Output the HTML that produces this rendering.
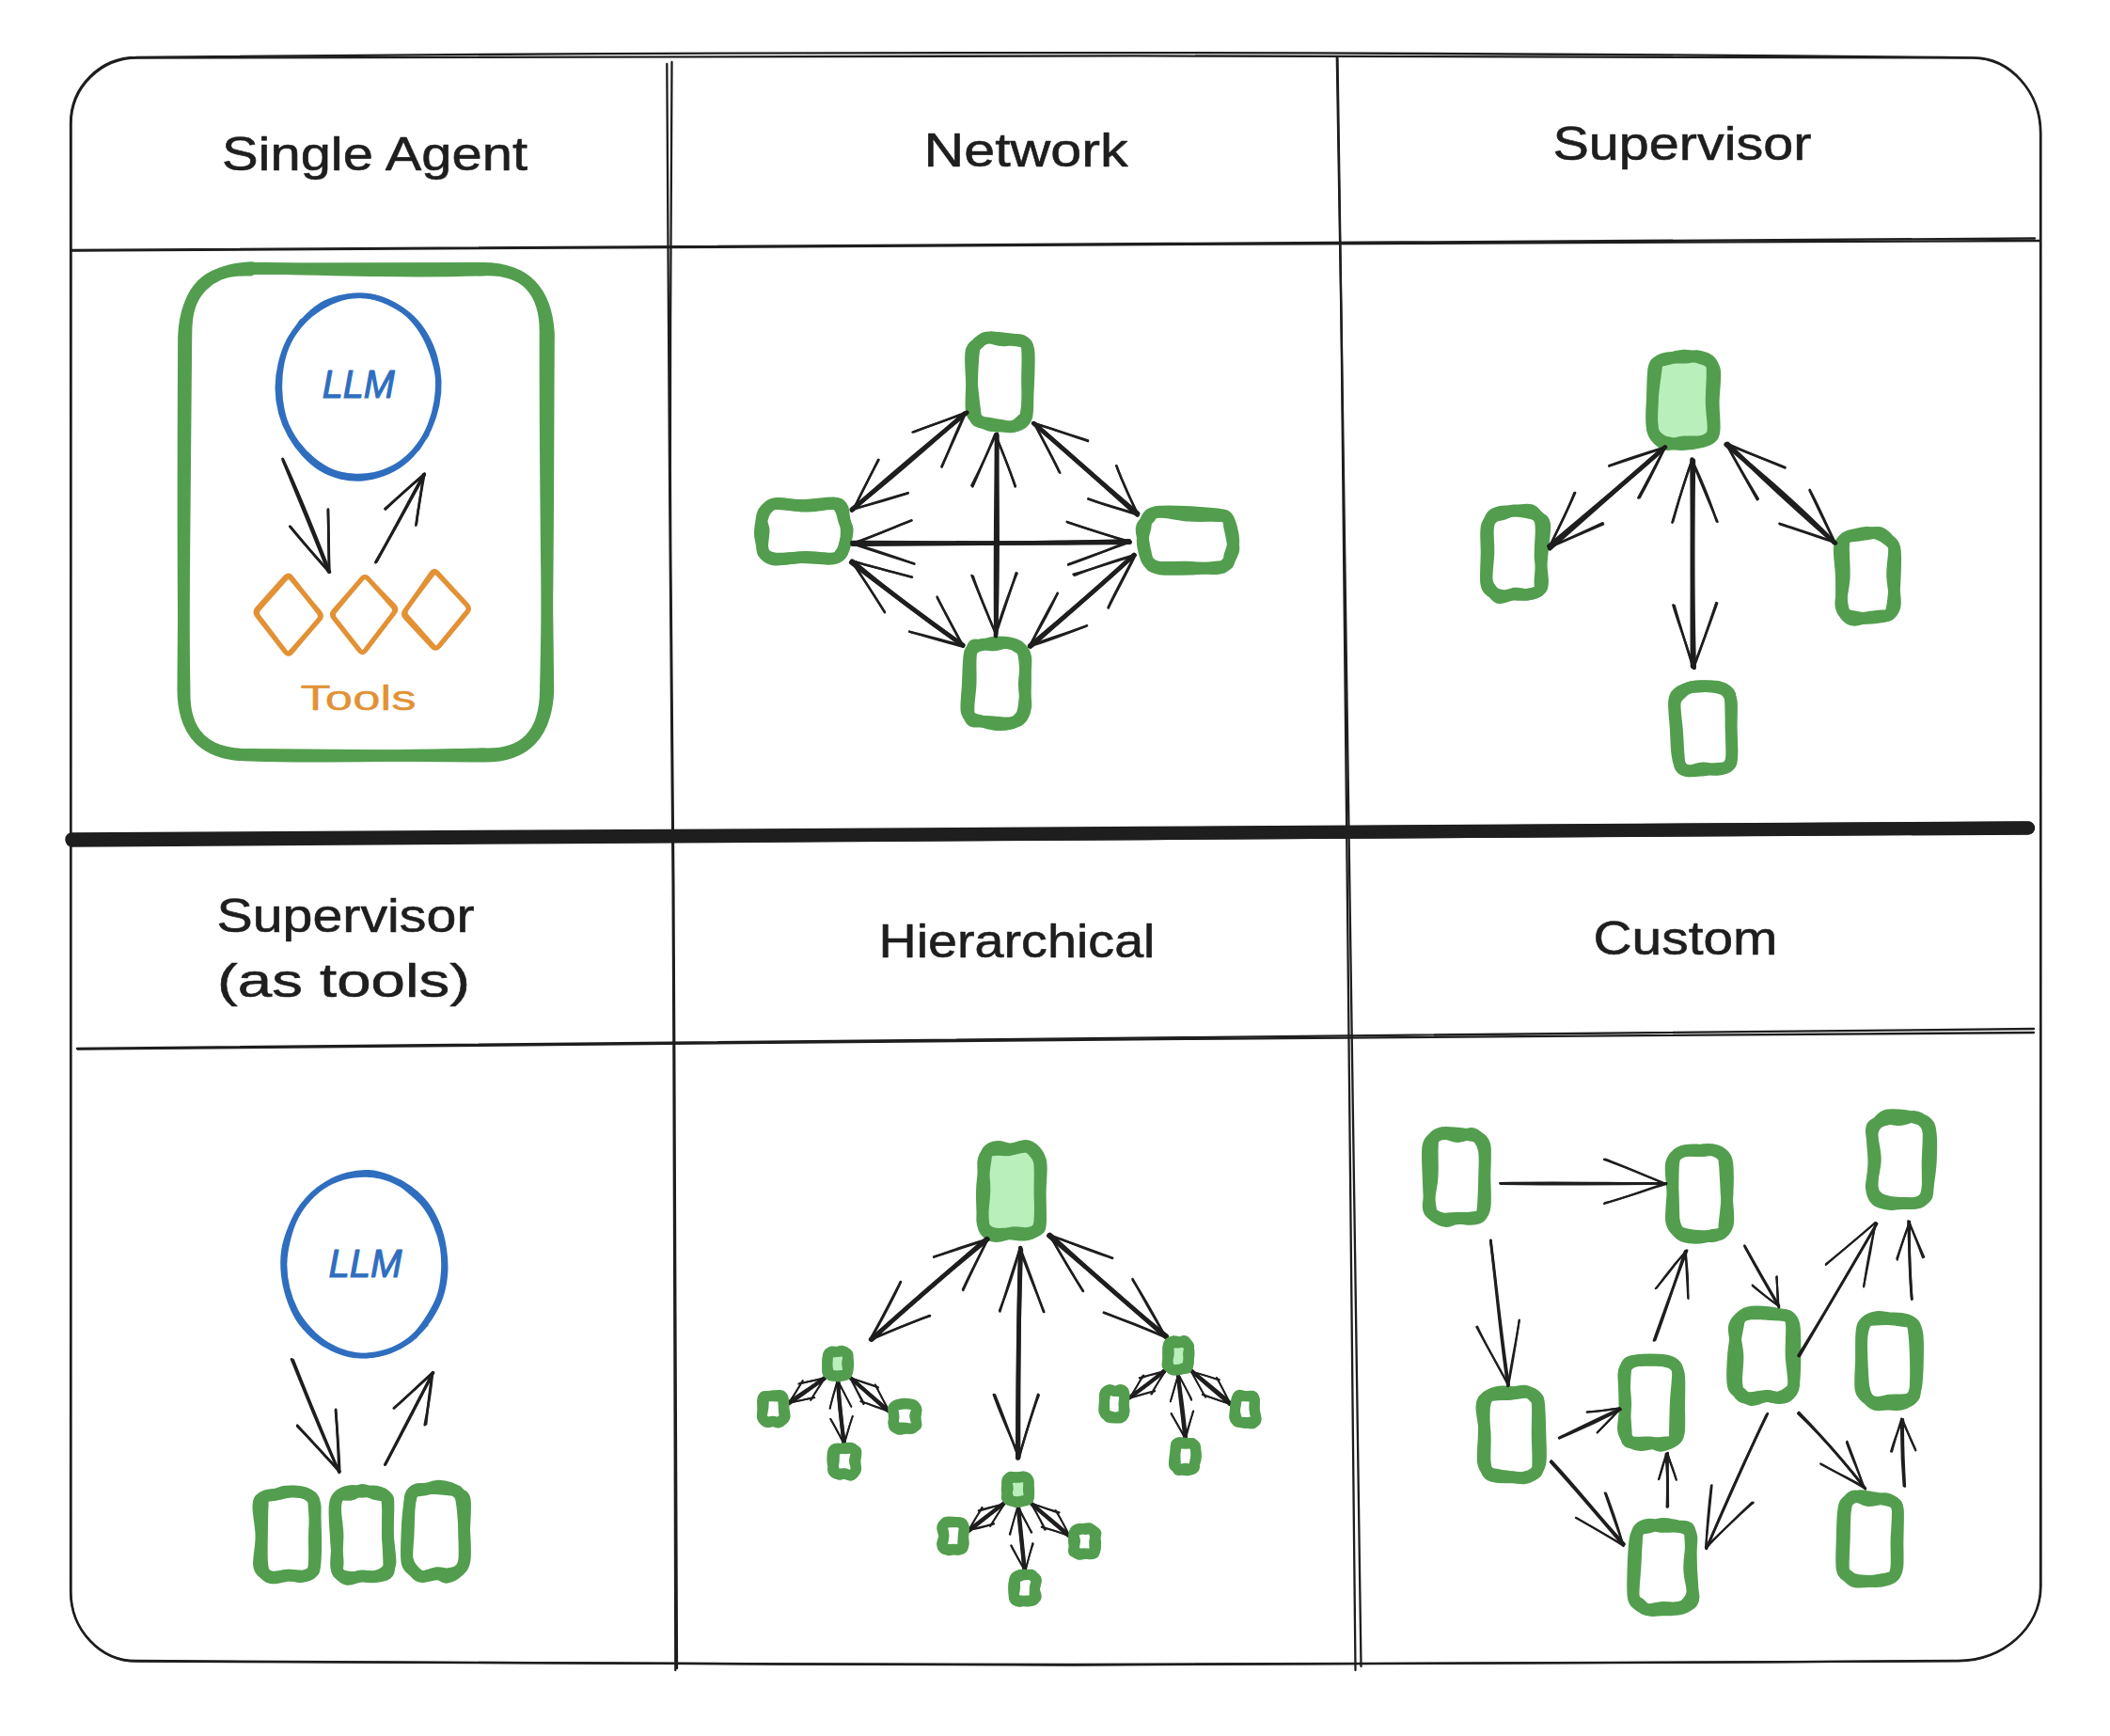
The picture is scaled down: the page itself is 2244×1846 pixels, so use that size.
<!DOCTYPE html>
<html><head><meta charset="utf-8"><title>Multi-agent architectures</title>
<style>html,body{margin:0;padding:0;background:#fff}svg{display:block}text{font-family:"Liberation Sans","DejaVu Sans",sans-serif}</style></head>
<body><svg width="2244" height="1846" viewBox="0 0 2244 1846" fill="none" stroke-linecap="round">
<rect width="2244" height="1846" fill="#ffffff" stroke="none"/>
<path d="M145 61Q1120 51 2099 61.3C2138.2 61.3 2170 97.3 2170 142C2170.5 700 2171.5 1200 2170.5 1687C2170.5 1730.4 2130.9 1765.6 2082 1765.8C1700 1769 1250 1771.5 1140 1770.5C800 1770 400 1767 144 1766C106.2 1766 75.5 1733.3 75.5 1693C76 1200 75 700 75 131C75 92.3 106.3 61 145 61" stroke="#1e1e1e" stroke-width="2.3"/>
<path d="M146 61.6C700 59.8 1500 57.6 2098 61.6C2137.5 62 2170.3 98 2170.4 141C2169.6 700 2170.4 1200 2170 1688C2170 1731 2130 1766 2083 1766.3C1700 1768 1250 1770.5 1140 1770C800 1769.4 400 1768 145 1766.6C107 1766.5 75 1733 75 1692C75 1200 76 700 75.6 132C75.5 93 107 61.8 146 61.6" stroke="#1e1e1e" stroke-width="2.3"/>
<path d="M709.3 68C709.8 140 711 354.7 712 500C713 645.3 714.7 790 715.6 940C716.5 1090 716.8 1260.7 717.3 1400C717.8 1539.3 718.1 1713.3 718.3 1776" stroke="#1e1e1e" stroke-width="2.3"/>
<path d="M714.5 66C714.2 138.3 712.6 354.3 712.9 500C713.2 645.7 715.5 790 716.4 940C717.3 1090 717.8 1261 718.4 1400C719 1539 719.7 1711.7 720 1774" stroke="#1e1e1e" stroke-width="2.3"/>
<path d="M1421.8 61C1431 600 1438.5 1100 1441.5 1776" stroke="#1e1e1e" stroke-width="2.3"/>
<path d="M1422.5 62L1447.5 1772" stroke="#1e1e1e" stroke-width="2.3"/>
<path d="M75 266C700 262 1500 257.5 2164 253.5" stroke="#1e1e1e" stroke-width="2.3"/>
<path d="M75.5 266.6C700 262.6 1500 258.5 2170 256" stroke="#1e1e1e" stroke-width="2.3"/>
<path d="M82 1115C700 1108.5 1500 1101 2163 1094" stroke="#1e1e1e" stroke-width="2.3"/>
<path d="M82.5 1115.6C700 1109 1500 1103 2163 1098" stroke="#1e1e1e" stroke-width="2.3"/>
<path d="M76.5 892.4C700 889 1500 884.4 2157 880.5" stroke="#1e1e1e" stroke-width="14.3"/>
<path d="M76.5 893.8C700 889.6 1500 884.4 2157 880.3" stroke="#1e1e1e" stroke-width="13.8"/>
<text x="398.5" y="181" font-size="50" fill="#1e1e1e" stroke="#1e1e1e" stroke-width="0.6" stroke-linejoin="round" text-anchor="middle" textLength="325" lengthAdjust="spacingAndGlyphs" style="" font-weight="normal">Single Agent</text>
<text x="1091" y="177" font-size="50" fill="#1e1e1e" stroke="#1e1e1e" stroke-width="0.6" stroke-linejoin="round" text-anchor="middle" textLength="217" lengthAdjust="spacingAndGlyphs" style="" font-weight="normal">Network</text>
<text x="1789" y="170" font-size="50" fill="#1e1e1e" stroke="#1e1e1e" stroke-width="0.6" stroke-linejoin="round" text-anchor="middle" textLength="275" lengthAdjust="spacingAndGlyphs" style="" font-weight="normal">Supervisor</text>
<text x="367.5" y="991" font-size="50" fill="#1e1e1e" stroke="#1e1e1e" stroke-width="0.6" stroke-linejoin="round" text-anchor="middle" textLength="274" lengthAdjust="spacingAndGlyphs" style="" font-weight="normal">Supervisor</text>
<text x="365.5" y="1059.5" font-size="50" fill="#1e1e1e" stroke="#1e1e1e" stroke-width="0.6" stroke-linejoin="round" text-anchor="middle" textLength="269" lengthAdjust="spacingAndGlyphs" style="" font-weight="normal">(as tools)</text>
<text x="1081.5" y="1017.5" font-size="50" fill="#1e1e1e" stroke="#1e1e1e" stroke-width="0.6" stroke-linejoin="round" text-anchor="middle" textLength="294" lengthAdjust="spacingAndGlyphs" style="" font-weight="normal">Hierarchical</text>
<text x="1792.5" y="1015" font-size="50" fill="#1e1e1e" stroke="#1e1e1e" stroke-width="0.6" stroke-linejoin="round" text-anchor="middle" textLength="196" lengthAdjust="spacingAndGlyphs" style="" font-weight="normal">Custom</text>
<path d="M266.3 285.8C353.6 285.3 438.9 285.1 513.6 285.3Q581.5 285.8 579.9 355.6C579.6 487 581.6 619.7 583 734.5Q579.9 805.2 513.8 804.3C427.1 803.5 340 802.6 265 802.2Q194.9 803.4 196.2 735.2C194 602.1 194.9 470.9 195.4 358Q198.2 286.7 267.5 284.6" stroke="#529e4e" stroke-width="12.5" stroke-linejoin="round"/>
<path d="M268.2 284.9C353.9 287.1 440.4 289.6 513.8 287.2Q579.8 284.5 583.6 355.3C582.7 485.9 583.3 617.8 580.3 731.4Q580.9 805.1 512.8 801.6C426.5 803.4 340 805.8 266.8 803.2Q195.4 804.3 194.7 734.2C195.5 602.5 197 467.8 198 354.5Q197.8 284.5 266 287.3" stroke="#529e4e" stroke-width="12.5" stroke-linejoin="round"/>
<path d="M453.8 462.1C451.3 465.4 444.4 475.8 438.8 481.6C433.2 487.3 426.9 492.6 420.1 496.5C413.4 500.3 405.9 503 398.5 504.6C391 506.2 383.2 506.8 375.7 506.2C368.1 505.7 360.3 504.3 353.2 501.5C346 498.6 339.2 494 333 489.1C326.9 484.1 321.1 478.1 316.2 471.6C311.4 465 306.9 457.5 303.9 449.7C300.9 441.9 299.2 433.2 298.2 424.7C297.2 416.3 297.1 407.5 297.9 399C298.7 390.6 300.2 381.8 303 373.8C305.7 365.9 309.8 358.1 314.6 351.5C319.3 344.8 325.2 338.9 331.3 333.9C337.4 328.9 344.2 324.7 351.2 321.5C358.3 318.3 365.8 315.8 373.3 314.8C380.8 313.8 388.8 313.9 396.3 315.5C403.7 317 411 320.4 417.9 324C424.7 327.6 431.7 331.8 437.5 337.3C443.3 342.7 448.6 349.5 452.7 356.7C456.9 363.8 460.3 371.9 462.6 380C465 388.1 466.4 396.9 466.8 405.4C467.1 413.9 466.3 422.7 464.6 431C462.9 439.3 460.1 447.5 456.7 455.1C453.3 462.7 446.3 473.1 444.2 476.7" stroke="#2f6ebf" stroke-width="5.5"/>
<path d="M311.1 355.9C313.6 352.7 320.8 342.3 326.5 336.7C332.2 331.1 338.7 325.7 345.5 322.2C352.4 318.6 360.1 316.7 367.6 315.4C375 314.1 382.8 313.8 390.3 314.7C397.8 315.6 405.4 317.6 412.5 320.8C419.5 323.9 426.5 328.2 432.5 333.5C438.5 338.8 444 345.4 448.5 352.4C453 359.4 456.5 367.4 459.4 375.5C462.2 383.6 464.7 392.2 465.5 400.8C466.3 409.4 465.5 418.6 464.2 427.1C462.8 435.7 460.5 444.2 457.4 452.1C454.3 459.9 450.2 467.7 445.4 474.3C440.6 481 434.9 487.2 428.6 492.1C422.4 497 415.3 500.7 408.1 503.5C401 506.2 393.4 508.1 385.9 508.7C378.4 509.3 370.5 508.7 363.1 507C355.8 505.3 348.2 502.4 341.6 498.4C334.9 494.4 328.7 488.8 323.2 482.9C317.7 477 312.6 470.1 308.6 462.8C304.5 455.5 301 447.3 298.8 439C296.6 430.7 295.3 421.6 295.3 412.9C295.2 404.2 296.4 395.2 298.4 386.8C300.3 378.3 303.2 369.9 307 362.4C310.8 354.9 318.8 345.1 321.1 341.6" stroke="#2f6ebf" stroke-width="5.5"/>
<text x="381.3" y="423" font-size="42" fill="#2f6ebf" stroke="#2f6ebf" stroke-width="1.2" stroke-linejoin="round" text-anchor="middle" textLength="77" lengthAdjust="spacingAndGlyphs" style="font-style:italic" font-weight="normal">LLM</text>
<path d="M300.6 488C319.3 527 334.6 567.2 350.8 608.4" stroke="#1e1e1e" stroke-width="2.9"/>
<path d="M301.1 490C317.4 529.3 333.4 568.2 349.2 608.1" stroke="#1e1e1e" stroke-width="2.9"/>
<path d="M308.7 559.8C322.2 576 335.9 592.5 350.3 608.6" stroke="#1e1e1e" stroke-width="2.6"/>
<path d="M308.2 559.8C321.1 576.1 336.4 592.3 350.1 608.2" stroke="#1e1e1e" stroke-width="2.6"/>
<path d="M348.8 542.4C349.6 563.1 349.8 584.8 350.1 607.9" stroke="#1e1e1e" stroke-width="2.6"/>
<path d="M349 541.6C349.4 564.5 349.1 584.8 350.3 608" stroke="#1e1e1e" stroke-width="2.6"/>
<path d="M400.4 597.4C416.8 566.7 434.1 535.4 450.3 504.8" stroke="#1e1e1e" stroke-width="2.9"/>
<path d="M399.4 597.9C417.9 566.9 434.1 535.8 451.6 504.8" stroke="#1e1e1e" stroke-width="2.9"/>
<path d="M410 541.5C424 528.1 436.3 516.2 451.6 504.3" stroke="#1e1e1e" stroke-width="2.6"/>
<path d="M409.5 540.9C423.1 529.1 437.7 516.3 451.2 504" stroke="#1e1e1e" stroke-width="2.6"/>
<path d="M442.3 558.6C445.3 539.8 448.3 521.5 450.3 504.3" stroke="#1e1e1e" stroke-width="2.6"/>
<path d="M442.9 557.2C444.7 539.4 448.1 522.2 451.5 503.6" stroke="#1e1e1e" stroke-width="2.6"/>
<path d="M275 655.5Q271.9 651.4 275.1 647.9L303.8 615.5Q307 612 310.2 615.9L339.8 651.1Q343.1 654.9 339.8 658.7L309.5 692.7Q306.1 696.5 303.1 692.4Z" stroke="#e29134" stroke-width="4.8" stroke-linejoin="round"/>
<path d="M273.6 655.1Q270.3 650.9 273.6 647.2L303.5 613.7Q306.8 610 309.9 614L338.8 651.2Q342 655.3 338.8 659.1L309.9 693.6Q306.7 697.4 303.4 693.2Z" stroke="#e29134" stroke-width="4.8" stroke-linejoin="round"/>
<path d="M355.9 657.7Q353 654 356.1 650.1L384.6 615.4Q387.7 611.6 390.8 614.8L419.3 644.3Q422.5 647.5 419.1 651.9L388.8 691.3Q385.5 695.6 382.6 691.8Z" stroke="#e29134" stroke-width="4.8" stroke-linejoin="round"/>
<path d="M354.8 657Q351.7 653.2 355 649.5L385 615.6Q388.3 611.9 391.3 615.2L418.1 645.5Q421.1 648.8 417.9 653L388.6 691.5Q385.4 695.8 382.4 691.9Z" stroke="#e29134" stroke-width="4.8" stroke-linejoin="round"/>
<path d="M432.8 655.4Q429.7 651.9 432.5 647.7L458.9 609.4Q461.8 605.2 465.2 609L496.7 643.3Q500.2 647 496.9 651L467.4 686.8Q464.2 690.8 461.1 687.3Z" stroke="#e29134" stroke-width="4.8" stroke-linejoin="round"/>
<path d="M431 656.5Q427.8 653 430.9 648.9L459.5 611.4Q462.6 607.2 466 610.8L496.4 643.4Q499.7 647 496.4 650.9L466.6 687.3Q463.3 691.3 460.1 687.8Z" stroke="#e29134" stroke-width="4.8" stroke-linejoin="round"/>
<text x="381" y="755" font-size="37" fill="#e29134" stroke="#e29134" stroke-width="0.4" stroke-linejoin="round" text-anchor="middle" textLength="123" lengthAdjust="spacingAndGlyphs" style="" font-weight="normal">Tools</text>
<path d="M1051.6 358.9C1055.1 358.1 1057 359.1 1061.3 359.4C1065.7 359.8 1073.1 360.6 1077.5 361.1C1081.9 361.7 1085.1 360.8 1087.8 362.7C1090.6 364.5 1092.9 365.5 1093.9 372.5C1094.9 379.4 1094.2 393.2 1093.8 404.3C1093.4 415.3 1092.6 431.7 1091.4 438.8C1090.2 445.8 1089.1 444.3 1086.8 446.8C1084.4 449.2 1080.9 452.4 1077.4 453.4C1073.8 454.5 1069.5 453.5 1065.3 453.3C1061 453.1 1056.2 453.3 1052 452.2C1047.9 451.1 1043.7 449.1 1040.5 446.6C1037.4 444.1 1034.4 444 1033.3 437.4C1032.1 430.8 1033.3 417.6 1033.6 407.2C1034 396.8 1034.4 382 1035.5 374.8C1036.5 367.7 1037.5 367 1040.2 364.3C1042.9 361.7 1048.1 359.8 1051.6 358.9Z" stroke="#529e4e" stroke-width="12.6" stroke-linejoin="round"/>
<path d="M1048.8 359.1C1052.9 358.5 1060.8 361.4 1065.3 361.8C1069.8 362.2 1071.7 361.2 1075.8 361.6C1079.8 362 1086.5 362.3 1089.3 364.2C1092.2 366.1 1092.1 366.2 1092.6 373.2C1093.2 380.1 1092.4 395.7 1092.5 406C1092.5 416.3 1093.3 427.8 1092.8 434.8C1092.3 441.8 1092 444.8 1089.3 447.9C1086.7 451.1 1081 453.1 1076.8 453.8C1072.5 454.6 1068.2 452.9 1063.8 452.2C1059.5 451.6 1054.8 450.8 1050.7 450C1046.6 449.2 1041.5 449.4 1039.2 447.6C1037 445.9 1038.1 446.4 1037.1 439.5C1036.2 432.5 1034.2 416.7 1033.5 405.9C1032.8 395 1031.7 381.1 1032.8 374.4C1033.9 367.6 1037.4 367.9 1040.1 365.4C1042.8 362.8 1044.6 359.7 1048.8 359.1Z" stroke="#529e4e" stroke-width="12.6" stroke-linejoin="round"/>
<path d="M824.6 535.8C830.9 535.1 842.6 537.5 852.9 537.3C863.2 537.2 879.3 534.4 886.5 534.8C893.6 535.2 893.9 537 895.7 539.6C897.6 542.2 896.9 546.2 897.7 550.3C898.4 554.5 900.1 559.6 900.2 564.6C900.4 569.5 899.6 575.6 898.5 579.9C897.4 584.2 896.3 588.2 893.6 590.6C890.9 593 889 594 882.3 594.3C875.6 594.7 862.8 592.8 853.2 592.7C843.6 592.6 831.5 594.5 824.9 593.9C818.3 593.4 816.2 592.3 813.7 589.6C811.2 586.9 810.8 581.4 809.9 577.5C809 573.6 808.1 570.5 808.2 566.2C808.3 561.9 809.3 556 810.5 551.9C811.6 547.8 812.9 544.2 815.2 541.5C817.6 538.8 818.3 536.5 824.6 535.8Z" stroke="#529e4e" stroke-width="12.6" stroke-linejoin="round"/>
<path d="M826.6 535.3C833.5 534.8 845.8 538.3 855.8 538.3C865.7 538.4 879.9 535.1 886.4 535.8C892.8 536.5 892.4 539.4 894.3 542.4C896.2 545.5 896.6 550.8 897.8 554.3C899 557.8 901.3 559.2 901.3 563.6C901.3 568 899.1 576.3 897.9 580.4C896.7 584.6 896.1 586.4 894.1 588.6C892.1 590.9 892.4 593.2 886 593.9C879.6 594.5 866.3 592.1 856 592.3C845.7 592.6 831.5 595.8 824.2 595.2C817 594.7 814.9 591.2 812.6 588.9C810.4 586.6 810.8 585.6 810.7 581.4C810.6 577.2 812.3 568.2 812.2 563.5C812 558.8 809.4 556.7 809.8 553.1C810.1 549.4 811.3 544.7 814.1 541.7C816.9 538.7 819.6 535.9 826.6 535.3Z" stroke="#529e4e" stroke-width="12.6" stroke-linejoin="round"/>
<path d="M1230.1 544.5C1236.9 543.5 1250.2 543.9 1261 544.3C1271.7 544.7 1287.2 545.9 1294.5 546.8C1301.9 547.8 1302.9 547.8 1305.1 550C1307.3 552.3 1306.6 555.6 1307.6 560.2C1308.6 564.8 1310.4 573.2 1311 577.5C1311.7 581.9 1312.7 582.4 1311.5 586.2C1310.2 590 1306.4 597.2 1303.5 600.3C1300.6 603.4 1301 604.2 1294.1 604.6C1287.2 605.1 1272.5 603.4 1262.1 603.1C1251.7 602.8 1238.6 603.9 1231.8 602.9C1225 601.9 1223.8 599.5 1221.4 597.4C1219.1 595.2 1218.8 593.8 1217.8 590.1C1216.7 586.3 1215 579.6 1215.1 574.8C1215.1 570 1217.1 565.4 1218 561.2C1218.8 557.1 1218.1 552.9 1220.2 550.1C1222.2 547.3 1223.3 545.5 1230.1 544.5Z" stroke="#529e4e" stroke-width="12.6" stroke-linejoin="round"/>
<path d="M1231.8 544.2C1239 543.7 1254.5 547.6 1265 548.3C1275.6 549 1288.6 548.2 1295.3 548.6C1302 549 1302.9 548.6 1305.3 550.8C1307.7 553 1308.7 557.5 1309.8 561.8C1310.9 566 1312.1 571.8 1311.8 576.6C1311.5 581.4 1309 586.5 1308 590.4C1307 594.3 1307.7 597.7 1305.6 599.7C1303.6 601.8 1302.7 601.9 1295.9 602.8C1289.1 603.7 1275.6 604.9 1265.1 605.2C1254.5 605.6 1239.9 605.8 1232.7 604.7C1225.6 603.5 1224.4 601.7 1222 598.6C1219.5 595.5 1218.9 590 1217.9 586C1216.9 582.1 1216.5 579 1215.9 574.8C1215.3 570.7 1213.2 564.9 1214.2 561C1215.1 557.1 1218.6 554.3 1221.6 551.5C1224.5 548.7 1224.5 544.7 1231.8 544.2Z" stroke="#529e4e" stroke-width="12.6" stroke-linejoin="round"/>
<path d="M1043.3 686C1047.5 685.4 1054.7 683.2 1059.9 682.9C1065 682.6 1070.1 683.3 1074.1 684.1C1078.1 684.9 1081.2 685.2 1084 687.8C1086.8 690.3 1090 692.8 1090.9 699.5C1091.8 706.2 1089.3 719.1 1089.3 727.9C1089.3 736.6 1091.6 745.5 1090.8 751.8C1089.9 758.1 1087.4 762.8 1084.2 765.6C1081.1 768.4 1076.6 768.4 1072 768.8C1067.4 769.1 1061.3 767.9 1056.7 767.7C1052 767.4 1048 767.4 1044.1 767.2C1040.2 766.9 1035.7 768.3 1033.3 766.1C1031 764 1030.2 760.9 1030 754.3C1029.8 747.8 1031.8 736 1032.2 726.9C1032.5 717.7 1031.8 706.1 1032.3 699.4C1032.8 692.8 1033.3 689 1035.1 686.8C1036.9 684.6 1039.2 686.7 1043.3 686Z" stroke="#529e4e" stroke-width="12.6" stroke-linejoin="round"/>
<path d="M1045.2 685.1C1048.7 684.5 1052.3 686.2 1056.6 686C1061 685.7 1067.1 683.2 1071.5 683.6C1075.9 683.9 1080 686 1082.8 688.1C1085.7 690.3 1087.6 690.1 1088.8 696.4C1090.1 702.8 1090.7 716.4 1090.6 726.1C1090.5 735.8 1089.6 748.4 1088.4 754.8C1087.2 761.1 1085.8 761.7 1083.5 764.2C1081.1 766.7 1078.3 768.6 1074.1 769.6C1069.8 770.6 1062.9 770.9 1057.9 770.4C1052.8 769.9 1047.8 767.9 1043.7 766.7C1039.6 765.6 1035.9 765.3 1033.3 763.4C1030.7 761.6 1028.6 761.4 1027.9 755.6C1027.2 749.8 1028.6 738.4 1029.2 728.6C1029.7 718.7 1029.9 702.9 1031 696.4C1032.1 689.9 1033.3 691.4 1035.6 689.5C1038 687.6 1041.7 685.7 1045.2 685.1Z" stroke="#529e4e" stroke-width="12.6" stroke-linejoin="round"/>
<path d="M1060.1 461.8C1060.2 532.4 1062 603.2 1058.9 676.2" stroke="#1e1e1e" stroke-width="4.6"/>
<path d="M1060.2 462.8C1059.5 532.2 1058.4 601.4 1059.3 674" stroke="#1e1e1e" stroke-width="4.6"/>
<path d="M1033.4 611.9C1041.8 632.9 1050.3 654 1059.3 674.9" stroke="#1e1e1e" stroke-width="2.4"/>
<path d="M1034.8 612.7C1041.6 633.4 1050.9 653.8 1059.4 674.6" stroke="#1e1e1e" stroke-width="2.4"/>
<path d="M1080.6 609.3C1074.1 631.2 1066.2 652.2 1059.1 675.1" stroke="#1e1e1e" stroke-width="2.4"/>
<path d="M1081.7 609.6C1072.7 630.4 1066 651.7 1058.3 674.3" stroke="#1e1e1e" stroke-width="2.4"/>
<path d="M1033.3 516.3C1042.5 498.7 1050.5 480.3 1059.3 462.1" stroke="#1e1e1e" stroke-width="2.4"/>
<path d="M1034.4 517.5C1042.6 499 1050.8 480.2 1058.3 461.4" stroke="#1e1e1e" stroke-width="2.4"/>
<path d="M1079.6 517.5C1073.8 498.6 1066.1 481.1 1058.8 462.2" stroke="#1e1e1e" stroke-width="2.4"/>
<path d="M1079.9 516.8C1072.9 498 1066.7 480.5 1058.4 462.6" stroke="#1e1e1e" stroke-width="2.4"/>
<path d="M906.5 578.7C1004.8 577.3 1101.2 578.4 1200.9 575.3" stroke="#1e1e1e" stroke-width="4.6"/>
<path d="M906.4 577.1C1004 577.5 1102.3 578 1201.6 576.6" stroke="#1e1e1e" stroke-width="4.6"/>
<path d="M1135.7 555.7C1156.6 562.2 1178.9 570.1 1201.9 576.5" stroke="#1e1e1e" stroke-width="2.4"/>
<path d="M1134.6 554.8C1156.8 562.3 1178.6 569.5 1201.8 575.8" stroke="#1e1e1e" stroke-width="2.4"/>
<path d="M1136.1 600.5C1158.3 593.1 1179.4 583.8 1202.1 575.5" stroke="#1e1e1e" stroke-width="2.4"/>
<path d="M1136.1 600.1C1158.3 591.4 1179.6 584.6 1202.7 576.2" stroke="#1e1e1e" stroke-width="2.4"/>
<path d="M969.3 553.4C949.6 561.2 929 570.3 907.6 577.3" stroke="#1e1e1e" stroke-width="2.4"/>
<path d="M969.6 553.4C949.2 561.3 929.3 570.1 907 578.4" stroke="#1e1e1e" stroke-width="2.4"/>
<path d="M972.1 599.4C950.4 592.6 929.4 585.7 907.3 578.7" stroke="#1e1e1e" stroke-width="2.4"/>
<path d="M972.5 599.6C950.7 592 929.7 584.6 907.7 578.2" stroke="#1e1e1e" stroke-width="2.4"/>
<path d="M906.1 542.6C945.6 507.1 985.8 473.3 1028.3 438.7" stroke="#1e1e1e" stroke-width="4.6"/>
<path d="M905.9 541.5C948.3 508.3 986 475 1026 439.4" stroke="#1e1e1e" stroke-width="4.6"/>
<path d="M971.7 459.3C989.1 452.7 1008.3 446.4 1026.4 438.5" stroke="#1e1e1e" stroke-width="2.4"/>
<path d="M970.5 459.6C989.1 452.8 1008.4 445.8 1026.5 439.4" stroke="#1e1e1e" stroke-width="2.4"/>
<path d="M1001.6 496.7C1010 477 1017.4 457.5 1026.7 439.1" stroke="#1e1e1e" stroke-width="2.4"/>
<path d="M1001.5 495.8C1009.7 478.2 1018.9 458.2 1027 439" stroke="#1e1e1e" stroke-width="2.4"/>
<path d="M934 488.8C925.8 506.2 916.1 524 907.5 542.3" stroke="#1e1e1e" stroke-width="2.4"/>
<path d="M934.6 489C925 506.7 915.9 524.5 907.2 542.8" stroke="#1e1e1e" stroke-width="2.4"/>
<path d="M965.5 524.6C945.7 530.9 926.3 536.4 907.5 541.3" stroke="#1e1e1e" stroke-width="2.4"/>
<path d="M965.7 524.1C946.3 529.8 927.4 535.3 907.6 541.7" stroke="#1e1e1e" stroke-width="2.4"/>
<path d="M1099.2 450.1C1136.5 482.2 1171.5 513.6 1210.1 546.1" stroke="#1e1e1e" stroke-width="4.6"/>
<path d="M1099.9 450.6C1135.7 481.3 1172.9 514.8 1209.6 547.5" stroke="#1e1e1e" stroke-width="4.6"/>
<path d="M1187.2 495.2C1193.8 513.1 1201.8 529 1209.8 547.3" stroke="#1e1e1e" stroke-width="2.4"/>
<path d="M1187.5 495.5C1193.9 513.1 1201.4 529.6 1210.2 546.7" stroke="#1e1e1e" stroke-width="2.4"/>
<path d="M1157.3 530.6C1174.3 536.9 1192.1 541.8 1209.5 547.4" stroke="#1e1e1e" stroke-width="2.4"/>
<path d="M1157.5 530.3C1174.8 536.4 1191.5 541.2 1209.4 546.4" stroke="#1e1e1e" stroke-width="2.4"/>
<path d="M1157.1 468.3C1137.7 462.2 1118.8 456.7 1099.6 449.5" stroke="#1e1e1e" stroke-width="2.4"/>
<path d="M1157 469.2C1138 462.5 1119.2 455.8 1100.4 450.5" stroke="#1e1e1e" stroke-width="2.4"/>
<path d="M1127.3 502.8C1118.2 484.1 1108.8 467.5 1100.5 450.3" stroke="#1e1e1e" stroke-width="2.4"/>
<path d="M1126.4 501.8C1118.8 484.9 1108.8 468 1100 450.5" stroke="#1e1e1e" stroke-width="2.4"/>
<path d="M906.1 596.6C944.8 628.9 983.2 657.9 1024 686.1" stroke="#1e1e1e" stroke-width="4.6"/>
<path d="M905.2 598.2C943.3 626.8 983.5 657.7 1024.3 686.2" stroke="#1e1e1e" stroke-width="4.6"/>
<path d="M967.7 671.8C986.6 676.2 1005.3 681.8 1023.9 686.4" stroke="#1e1e1e" stroke-width="2.4"/>
<path d="M967.1 671.6C986.3 677.2 1004 682.5 1024.7 687.8" stroke="#1e1e1e" stroke-width="2.4"/>
<path d="M996.6 634.6C1005 652.1 1014 668.5 1024.1 687.5" stroke="#1e1e1e" stroke-width="2.4"/>
<path d="M996.8 635.7C1005.8 652.4 1014.6 669.3 1024.3 686.7" stroke="#1e1e1e" stroke-width="2.4"/>
<path d="M969.2 613.5C948.8 608.1 927.3 602.4 905.9 596.4" stroke="#1e1e1e" stroke-width="2.4"/>
<path d="M970.1 613.7C949.1 608.1 928.4 603.2 906.2 596.3" stroke="#1e1e1e" stroke-width="2.4"/>
<path d="M940.9 651.2C929.8 633.2 918.7 615.9 906.3 597.4" stroke="#1e1e1e" stroke-width="2.4"/>
<path d="M940.9 650.9C929.9 633 918.2 615.8 906.1 597.6" stroke="#1e1e1e" stroke-width="2.4"/>
<path d="M1205.8 590.6C1170.6 623.1 1132.9 654.7 1096 687.6" stroke="#1e1e1e" stroke-width="4.6"/>
<path d="M1206 589.9C1169.7 623.5 1134 654.3 1095 686.7" stroke="#1e1e1e" stroke-width="4.6"/>
<path d="M1124.8 630.6C1116.1 649.9 1106 668 1094.3 687.7" stroke="#1e1e1e" stroke-width="2.4"/>
<path d="M1124.6 631.4C1114.1 649.8 1104.3 667.8 1095.1 687.6" stroke="#1e1e1e" stroke-width="2.4"/>
<path d="M1155.2 665.6C1135 673 1116.1 679.1 1094.7 686.7" stroke="#1e1e1e" stroke-width="2.4"/>
<path d="M1156.1 665.3C1135.6 673.1 1116.5 680.8 1094.2 687.6" stroke="#1e1e1e" stroke-width="2.4"/>
<path d="M1141.5 610.7C1163 604.6 1184.7 597.1 1207.7 590.6" stroke="#1e1e1e" stroke-width="2.4"/>
<path d="M1142.6 611.8C1162.8 604.3 1184 596.1 1206.5 590.2" stroke="#1e1e1e" stroke-width="2.4"/>
<path d="M1178.7 646.6C1187.9 628 1198.4 609.1 1207.6 590.3" stroke="#1e1e1e" stroke-width="2.4"/>
<path d="M1178.6 645.7C1187.3 626.9 1197.3 609.3 1207.3 589.5" stroke="#1e1e1e" stroke-width="2.4"/>
<rect x="1758.7" y="379.7" width="63.5" height="91.5" rx="15" fill="#b9efbb" stroke="none"/>
<path d="M1773.1 380.6C1778 379.8 1787 380.5 1792.5 380.2C1798 379.9 1801.4 378 1805.9 378.7C1810.3 379.4 1816.7 381.9 1819.2 384.6C1821.7 387.4 1821 388.2 1821.1 395.5C1821.3 402.7 1820 417.9 1820.1 428C1820.3 438.2 1822.3 450.2 1822 456.4C1821.6 462.7 1820.3 463.2 1818 465.5C1815.6 467.7 1812.6 468.9 1807.8 470.1C1803 471.4 1795.2 472.8 1789.2 472.8C1783.2 472.8 1775.8 471.3 1771.6 470.2C1767.4 469 1766.3 468.4 1763.9 466.1C1761.6 463.8 1758.7 462.9 1757.6 456.5C1756.4 450.1 1756.5 438.3 1757.1 427.6C1757.7 416.9 1760.3 399.4 1761.3 392.3C1762.3 385.2 1761 386.9 1763 384.9C1765 382.9 1768.2 381.4 1773.1 380.6Z" stroke="#529e4e" stroke-width="12.6" stroke-linejoin="round"/>
<path d="M1773.1 382C1777.6 380.8 1784.8 378.3 1790.5 378.1C1796.2 377.8 1803.1 379.4 1807.6 380.5C1812.1 381.6 1814.7 382.2 1817.4 384.6C1820.1 387 1822.9 387.7 1823.7 394.8C1824.6 401.9 1822.4 417 1822.3 427.3C1822.2 437.6 1823.7 449.9 1823.2 456.4C1822.7 462.8 1821.7 463.7 1819.3 465.9C1816.9 468.1 1813.4 468.9 1808.7 469.5C1804 470.2 1796.9 469.4 1791.1 469.9C1785.2 470.4 1777.9 473 1773.4 472.7C1768.9 472.3 1766.7 470.5 1764 467.8C1761.3 465 1758.5 463.2 1757.4 456.2C1756.2 449.2 1757.1 436.6 1757.3 425.9C1757.5 415.3 1757.7 399.2 1758.7 392.3C1759.7 385.5 1761 386.5 1763.4 384.8C1765.8 383.1 1768.6 383.1 1773.1 382Z" stroke="#529e4e" stroke-width="12.6" stroke-linejoin="round"/>
<path d="M1598.1 546.7C1601.7 545.5 1605.7 543.2 1609.8 542.9C1613.9 542.6 1618.5 543.7 1622.8 544.7C1627.1 545.7 1633 546.2 1635.7 548.9C1638.4 551.7 1638.6 554.3 1639 561.3C1639.4 568.3 1637.8 581.6 1638 591.1C1638.3 600.7 1640.8 612.3 1640.6 618.5C1640.4 624.7 1639.7 625.8 1636.8 628.1C1633.9 630.4 1628 631.6 1623.4 632.3C1618.8 633 1613.3 632.1 1609.1 632.3C1604.9 632.5 1602.1 633.9 1598.4 633.4C1594.6 632.9 1589.4 631.4 1586.4 629.2C1583.4 626.9 1581.5 626.8 1580.6 619.9C1579.7 613 1581 597.6 1581 587.7C1581.1 577.9 1579.8 567 1581 560.7C1582.1 554.4 1585.3 552.4 1588.2 550C1591 547.7 1594.5 547.9 1598.1 546.7Z" stroke="#529e4e" stroke-width="12.6" stroke-linejoin="round"/>
<path d="M1595.4 544.3C1599.5 543.4 1605.4 543.6 1610.8 543.3C1616.2 542.9 1623.5 541.2 1627.7 542.3C1631.9 543.5 1633.3 547.3 1635.8 549.9C1638.4 552.5 1642.1 551.2 1642.8 557.9C1643.5 564.6 1640.9 580.4 1640 590.3C1639.2 600.1 1638.4 610.7 1637.9 616.9C1637.4 623.2 1639.3 625.2 1637.1 627.8C1634.9 630.3 1629 631.7 1624.7 632.2C1620.4 632.8 1616 630.5 1611.1 631.1C1606.2 631.7 1599.2 636.1 1595.3 635.8C1591.4 635.6 1590.3 632.8 1587.9 629.6C1585.6 626.5 1582.1 624 1581.3 617C1580.5 610 1582.8 596.8 1583 587.7C1583.2 578.5 1581.9 568.5 1582.5 562C1583.1 555.5 1584.5 551.6 1586.7 548.6C1588.9 545.7 1591.4 545.2 1595.4 544.3Z" stroke="#529e4e" stroke-width="12.6" stroke-linejoin="round"/>
<path d="M1976.2 569.3C1979.7 568.7 1979.8 568.7 1983.6 568.2C1987.4 567.7 1994.9 565.5 1999 566.4C2003.2 567.4 2005.7 570.8 2008.4 573.7C2011.1 576.7 2014 577.7 2015.2 584.2C2016.3 590.7 2015.7 602.8 2015.3 612.8C2014.9 622.8 2013.8 637.2 2012.7 644.1C2011.6 650.9 2011.2 651.7 2008.5 653.8C2005.9 655.8 2000.8 655.8 1996.8 656.5C1992.8 657.1 1988.5 657.7 1984.4 657.5C1980.2 657.4 1975.7 656.5 1972 655.7C1968.3 654.9 1964.6 655.1 1962.2 652.8C1959.9 650.5 1957.9 648.5 1957.7 642C1957.6 635.5 1960.8 623.9 1961.3 613.9C1961.8 604 1960.4 589.2 1960.6 582.2C1960.9 575.2 1960.2 573.9 1962.8 571.8C1965.4 569.6 1972.8 569.9 1976.2 569.3Z" stroke="#529e4e" stroke-width="12.6" stroke-linejoin="round"/>
<path d="M1974.7 568C1978.3 567.1 1981.2 566.3 1984.8 566.2C1988.5 566.1 1992.7 566.1 1996.6 567.5C2000.6 568.9 2005.6 571.9 2008.5 574.4C2011.5 577 2013.7 576.4 2014.4 582.5C2015.1 588.7 2012.4 601.4 2012.5 611.2C2012.7 621 2016 634.5 2015.5 641.5C2015.1 648.6 2012.2 651.4 2009.7 653.6C2007.2 655.8 2004.5 654.3 2000.4 654.8C1996.3 655.3 1989.9 655.9 1985.1 656.7C1980.3 657.4 1975.3 659.7 1971.6 659.3C1967.8 658.8 1964.7 656.9 1962.6 653.7C1960.5 650.5 1959.6 647 1958.8 640C1958.1 632.9 1958.6 621.3 1958.2 611.6C1957.8 602 1955.5 588.6 1956.3 581.9C1957.2 575.3 1960.4 574 1963.4 571.7C1966.5 569.3 1971.2 568.9 1974.7 568Z" stroke="#529e4e" stroke-width="12.6" stroke-linejoin="round"/>
<path d="M1796.8 731.3C1800.9 730.1 1807.5 730 1812.7 729.8C1818 729.7 1824 729.3 1828.3 730.5C1832.7 731.6 1836.6 734.2 1838.6 736.6C1840.6 739.1 1840 738.5 1840.4 745.2C1840.9 751.9 1840.9 766.9 1841.1 776.6C1841.4 786.4 1842.1 797.4 1841.8 803.7C1841.4 809.9 1841.6 811.6 1839 814C1836.4 816.5 1830.9 818 1826.2 818.5C1821.5 818.9 1816.2 816.6 1811 816.9C1805.9 817.1 1799.2 820.1 1795.3 819.9C1791.3 819.8 1789 818.6 1787.3 815.8C1785.7 813.1 1785.8 809.6 1785.2 803.2C1784.6 796.9 1784.3 786.9 1783.6 777.7C1783 768.4 1780.6 754.4 1781.3 747.7C1781.9 741 1785.1 740.3 1787.6 737.5C1790.2 734.8 1792.6 732.6 1796.8 731.3Z" stroke="#529e4e" stroke-width="12.6" stroke-linejoin="round"/>
<path d="M1799.6 730.3C1804.2 729.3 1808.6 729.5 1813.2 729.6C1817.7 729.7 1823 730.1 1826.9 731.2C1830.8 732.2 1834.1 733.2 1836.5 735.8C1838.9 738.4 1840.6 740.4 1841.4 746.7C1842.1 753 1841.1 764.2 1841.1 773.7C1841.2 783.3 1842.5 797.2 1841.8 804.1C1841 811.1 1839.5 813.2 1836.8 815.4C1834.2 817.6 1830.1 816.6 1825.9 817.2C1821.7 817.7 1816.7 818.4 1811.7 818.9C1806.7 819.3 1799.9 820.3 1795.9 819.7C1791.9 819.1 1789.8 818 1787.8 815C1785.7 812.1 1784.7 808.5 1783.8 801.8C1782.8 795.1 1782.7 784.1 1782.2 774.8C1781.6 765.5 1779.9 752.7 1780.5 746.2C1781.1 739.8 1782.5 738.8 1785.7 736.1C1788.9 733.5 1795.1 731.4 1799.6 730.3Z" stroke="#529e4e" stroke-width="12.6" stroke-linejoin="round"/>
<path d="M1770.9 475.5C1729.8 511.8 1689.8 545.1 1647.4 580.8" stroke="#1e1e1e" stroke-width="4.6"/>
<path d="M1770.2 475.9C1729.7 510.8 1690.6 546.3 1648.3 583.2" stroke="#1e1e1e" stroke-width="4.6"/>
<path d="M1675.2 523.9C1666.5 543.7 1656.8 562.9 1647.9 581.6" stroke="#1e1e1e" stroke-width="2.4"/>
<path d="M1674.4 524C1667.4 542.8 1657.2 562.1 1647.7 581.8" stroke="#1e1e1e" stroke-width="2.4"/>
<path d="M1704.6 556.2C1685.7 565 1667.5 573.4 1648.1 581.8" stroke="#1e1e1e" stroke-width="2.4"/>
<path d="M1705.1 557.5C1685.9 565.7 1667 573.7 1648.8 581.7" stroke="#1e1e1e" stroke-width="2.4"/>
<path d="M1711.3 495.7C1731.1 488.9 1750.8 482.5 1771.5 475.5" stroke="#1e1e1e" stroke-width="2.4"/>
<path d="M1711.4 495.1C1730.4 488 1750.5 481.6 1770.6 475.6" stroke="#1e1e1e" stroke-width="2.4"/>
<path d="M1742.3 529.4C1751.7 512.4 1761 493.6 1771.3 475.4" stroke="#1e1e1e" stroke-width="2.4"/>
<path d="M1743.6 529.3C1753.1 512.2 1762.2 494.2 1770.6 476" stroke="#1e1e1e" stroke-width="2.4"/>
<path d="M1799.5 488.6C1800.2 561.8 1799.5 634.7 1801.7 709.9" stroke="#1e1e1e" stroke-width="4.6"/>
<path d="M1800.9 489.8C1800.2 560.9 1799.3 632.9 1800 708.7" stroke="#1e1e1e" stroke-width="4.6"/>
<path d="M1780.7 643.8C1786.7 665 1793.6 687.3 1800.4 709.3" stroke="#1e1e1e" stroke-width="2.4"/>
<path d="M1779.3 643.3C1785.9 665.4 1794 686.2 1800.4 708.3" stroke="#1e1e1e" stroke-width="2.4"/>
<path d="M1825.2 641.1C1817.7 664 1810.3 685.6 1801 708.8" stroke="#1e1e1e" stroke-width="2.4"/>
<path d="M1826.2 641.4C1818.2 663.6 1810.1 685.4 1801.8 708.8" stroke="#1e1e1e" stroke-width="2.4"/>
<path d="M1778.4 555.7C1784.9 532.8 1791.7 511.4 1799.6 489" stroke="#1e1e1e" stroke-width="2.4"/>
<path d="M1779.2 554.6C1785.2 532.7 1791.7 510.6 1799.6 489" stroke="#1e1e1e" stroke-width="2.4"/>
<path d="M1825.7 554.3C1818.7 532.5 1809.9 511.2 1799.5 489" stroke="#1e1e1e" stroke-width="2.4"/>
<path d="M1826.5 554.8C1817.6 533.5 1808.4 512.2 1799.3 489.1" stroke="#1e1e1e" stroke-width="2.4"/>
<path d="M1837.3 471.9C1872.3 506.3 1910.3 541.1 1951.9 577.6" stroke="#1e1e1e" stroke-width="4.6"/>
<path d="M1835.6 472.7C1873.6 504.9 1914 539.1 1950.5 577" stroke="#1e1e1e" stroke-width="4.6"/>
<path d="M1924.5 521.5C1933.4 540 1942.2 558.8 1951.4 576.8" stroke="#1e1e1e" stroke-width="2.4"/>
<path d="M1924.7 520.8C1934 538.5 1942.4 557.3 1951.3 576.6" stroke="#1e1e1e" stroke-width="2.4"/>
<path d="M1892.8 557.3C1912.4 563.2 1931 570.7 1951.5 576.8" stroke="#1e1e1e" stroke-width="2.4"/>
<path d="M1892.4 556.7C1912.6 563.5 1931.6 569.5 1951.4 576.5" stroke="#1e1e1e" stroke-width="2.4"/>
<path d="M1898.4 496.8C1878 489.1 1856.9 481.1 1835.9 471.2" stroke="#1e1e1e" stroke-width="2.4"/>
<path d="M1898.5 497.6C1877.8 489 1857.5 480.7 1835.7 472.4" stroke="#1e1e1e" stroke-width="2.4"/>
<path d="M1868.9 531.3C1858.1 512.4 1846.6 491.7 1835.5 471.6" stroke="#1e1e1e" stroke-width="2.4"/>
<path d="M1869.8 530.4C1858.2 511.2 1847.2 492.8 1836.2 471.8" stroke="#1e1e1e" stroke-width="2.4"/>
<path d="M452.9 1408.4C450 1411.3 441.8 1420.8 435.4 1425.6C429 1430.3 421.8 1434 414.6 1436.7C407.3 1439.3 399.6 1441.2 392 1441.6C384.4 1441.9 376.5 1440.9 369.1 1438.9C361.7 1437 354.3 1433.8 347.6 1429.7C341 1425.6 334.7 1420.2 329.2 1414.2C323.7 1408.3 318.5 1401.4 314.6 1394.1C310.7 1386.7 307.6 1378.3 305.6 1370C303.6 1361.7 302.5 1352.7 302.6 1344.1C302.7 1335.5 304.2 1326.7 306.3 1318.3C308.3 1310 310.9 1301.5 314.8 1294.1C318.6 1286.7 323.8 1279.8 329.3 1273.9C334.8 1267.9 341.2 1262.6 347.9 1258.5C354.6 1254.4 362 1251.3 369.5 1249.4C376.9 1247.4 384.8 1246.3 392.4 1246.8C400 1247.3 407.7 1249.6 414.9 1252.4C422.1 1255.2 429.2 1258.9 435.6 1263.5C442 1268.2 448.3 1273.9 453.3 1280.4C458.3 1286.9 462.5 1294.7 465.6 1302.6C468.8 1310.4 470.9 1319.1 472.2 1327.6C473.5 1336.1 474.1 1345.1 473.5 1353.7C472.9 1362.3 471.2 1371.3 468.5 1379.3C465.7 1387.4 461.4 1395 456.9 1402C452.3 1408.9 443.8 1417.9 441.2 1421.1" stroke="#2f6ebf" stroke-width="5.5"/>
<path d="M432.4 1263.7C435.4 1266.5 445.1 1273.9 450.2 1280.3C455.3 1286.6 459.7 1294.1 463.1 1301.8C466.5 1309.5 469.1 1318 470.6 1326.4C472 1334.9 472.2 1343.8 471.7 1352.4C471.1 1360.9 470 1369.9 467.3 1377.9C464.7 1385.9 460.3 1393.4 455.9 1400.4C451.5 1407.4 446.7 1414.5 440.9 1420C435.1 1425.5 428.1 1430.1 421.2 1433.5C414.2 1436.9 406.5 1438.9 399 1440.2C391.4 1441.5 383.5 1442.2 376 1441.2C368.5 1440.2 360.8 1437.5 353.8 1434.2C346.8 1430.9 339.9 1426.5 333.9 1421.3C327.9 1416.1 322 1409.9 317.5 1403C313.1 1396.1 309.7 1388 307 1379.9C304.4 1371.9 302.4 1363.3 301.6 1354.8C300.7 1346.3 300.7 1337.3 302 1328.9C303.3 1320.6 306.2 1312.2 309.4 1304.5C312.7 1296.7 316.6 1289 321.4 1282.5C326.3 1275.9 332.2 1269.8 338.5 1265C344.8 1260.2 352 1256.4 359.3 1253.8C366.5 1251.2 374.2 1249.8 381.8 1249.3C389.4 1248.7 397.4 1249 404.8 1250.7C412.2 1252.4 419.7 1255.6 426.5 1259.6C433.2 1263.6 442.1 1272.3 445.2 1274.8" stroke="#2f6ebf" stroke-width="5.5"/>
<text x="388.5" y="1358" font-size="42" fill="#2f6ebf" stroke="#2f6ebf" stroke-width="1.2" stroke-linejoin="round" text-anchor="middle" textLength="78" lengthAdjust="spacingAndGlyphs" style="font-style:italic" font-weight="normal">LLM</text>
<path d="M311.8 1446.6C326.6 1484.4 343.6 1525.3 360.3 1564.7" stroke="#1e1e1e" stroke-width="2.9"/>
<path d="M310.2 1445.4C326.9 1486.4 342.3 1525.8 360.8 1565.7" stroke="#1e1e1e" stroke-width="2.9"/>
<path d="M316.2 1516.6C331.4 1531.8 345.2 1547.8 361.4 1564.5" stroke="#1e1e1e" stroke-width="2.6"/>
<path d="M316.2 1515.6C330.5 1531.4 346.2 1548.1 361.2 1565.3" stroke="#1e1e1e" stroke-width="2.6"/>
<path d="M356.9 1499.7C358.7 1521.5 360.6 1542.9 361.2 1564.8" stroke="#1e1e1e" stroke-width="2.6"/>
<path d="M357.2 1498.9C358.7 1521.3 359.8 1542.5 360.4 1565.2" stroke="#1e1e1e" stroke-width="2.6"/>
<path d="M409.9 1557.2C426 1524.9 443.4 1492.7 460.4 1459.5" stroke="#1e1e1e" stroke-width="2.9"/>
<path d="M409.4 1557.4C427 1525.9 443.2 1492.6 460.9 1459.8" stroke="#1e1e1e" stroke-width="2.9"/>
<path d="M418.7 1497.4C432.8 1485.3 445.6 1472.5 460.7 1459.7" stroke="#1e1e1e" stroke-width="2.6"/>
<path d="M419.6 1497.1C432.8 1485.4 445.9 1472.5 459.9 1459.7" stroke="#1e1e1e" stroke-width="2.6"/>
<path d="M453.1 1514.3C454.9 1497.1 456.8 1479.3 459.8 1459.8" stroke="#1e1e1e" stroke-width="2.6"/>
<path d="M451.7 1515.2C455.4 1496.6 458.2 1478.9 460 1459.8" stroke="#1e1e1e" stroke-width="2.6"/>
<path d="M294.2 1589.2C299.1 1588.2 304.3 1586.5 309.1 1586.2C313.9 1585.9 319.1 1586.4 323 1587.5C326.9 1588.6 330.7 1590.3 332.5 1592.7C334.3 1595 333.5 1594.8 334 1601.5C334.6 1608.2 335.6 1622.3 335.8 1632.8C335.9 1643.4 335.6 1658.2 334.8 1664.8C334 1671.4 333.5 1670.5 331 1672.5C328.4 1674.5 323.3 1676.3 319.4 1676.7C315.5 1677.2 312.7 1674.9 307.8 1675.1C302.9 1675.3 294.4 1678.3 290 1678C285.6 1677.8 283.9 1676 281.5 1673.6C279.1 1671.3 276 1670.6 275.4 1663.9C274.9 1657.2 278 1643.8 277.9 1633.4C277.8 1623 274.5 1608.4 274.8 1601.6C275 1594.7 276.4 1594.3 279.6 1592.2C282.9 1590.2 289.3 1590.2 294.2 1589.2Z" stroke="#529e4e" stroke-width="12.6" stroke-linejoin="round"/>
<path d="M294 1588.8C297.9 1587.9 299.5 1586.3 304 1586C308.6 1585.6 317 1585.9 321.5 1586.9C325.9 1587.9 328.4 1589.5 330.7 1592C333 1594.5 334.6 1595 335.2 1601.8C335.8 1608.5 334.5 1622.6 334.3 1632.4C334.2 1642.1 334.7 1653.5 334.3 1660.1C333.9 1666.8 333.9 1669.6 331.9 1672.2C330 1674.9 327 1675.5 322.7 1676C318.4 1676.4 311.5 1674.8 306.1 1675C300.6 1675.1 294.4 1677.4 290.3 1677C286.1 1676.7 283.3 1675.6 281.3 1672.7C279.4 1669.9 279 1667.3 278.6 1660.2C278.1 1653.1 278.4 1639.9 278.6 1630.2C278.7 1620.5 278.8 1608.3 279.2 1601.9C279.6 1595.4 278.4 1593.7 280.8 1591.5C283.3 1589.3 290.2 1589.7 294 1588.8Z" stroke="#529e4e" stroke-width="12.6" stroke-linejoin="round"/>
<path d="M373.6 1589.1C377.7 1588.1 381.2 1584.3 385.3 1584.2C389.4 1584.1 393.7 1587.1 398 1588.4C402.3 1589.7 408.6 1589.5 411.1 1591.8C413.6 1594 412.8 1595.5 413 1601.9C413.2 1608.3 412.2 1619.5 412.3 1630C412.4 1640.4 414 1657.4 413.7 1664.7C413.5 1672 413.5 1671.9 410.8 1674C408.1 1676 402 1676.5 397.4 1676.8C392.9 1677.2 388.2 1675.6 383.6 1676C378.9 1676.5 373.5 1680 369.7 1679.4C365.9 1678.9 362.6 1675.4 360.6 1672.8C358.6 1670.3 357.8 1671 357.5 1664.3C357.3 1657.5 359.2 1642.4 359.1 1632.4C358.9 1622.3 356.4 1610.8 356.7 1603.8C357 1596.9 358 1592.9 360.8 1590.5C363.6 1588 369.5 1590.2 373.6 1589.1Z" stroke="#529e4e" stroke-width="12.6" stroke-linejoin="round"/>
<path d="M373 1585.5C377 1584.8 380.6 1586.3 385.1 1586.4C389.5 1586.4 395.5 1585.2 399.6 1586C403.8 1586.8 408 1588.1 410.2 1591C412.3 1593.9 412 1596.6 412.4 1603.5C412.8 1610.3 412.1 1622.4 412.5 1632.1C412.9 1641.9 415.5 1655.2 415 1661.7C414.5 1668.3 412.2 1669.2 409.5 1671.6C406.9 1674.1 403.1 1675.6 399.1 1676.3C395.1 1677 390 1675.7 385.7 1675.9C381.3 1676 377.4 1677.8 373 1677.2C368.7 1676.7 361.9 1675.5 359.6 1672.6C357.3 1669.7 359.6 1666.1 359.2 1659.7C358.8 1653.3 357.7 1644 357.2 1634.4C356.7 1624.8 355.4 1609.6 356 1602.2C356.6 1594.9 357.9 1593.3 360.7 1590.5C363.5 1587.7 368.9 1586.2 373 1585.5Z" stroke="#529e4e" stroke-width="12.6" stroke-linejoin="round"/>
<path d="M450.8 1583.2C454.6 1582.7 458.4 1582.6 462.8 1582.7C467.2 1582.9 473.4 1583.5 477.4 1584C481.3 1584.6 484.2 1583.8 486.5 1585.9C488.8 1587.9 489.8 1589.4 491 1596.5C492.2 1603.6 493.3 1617.9 493.8 1628.4C494.3 1638.8 495.2 1652.2 494.1 1659.3C493 1666.4 490.4 1667.9 487.2 1670.9C484 1673.9 478.7 1676.8 475.1 1677.3C471.5 1677.8 469.8 1674 465.5 1673.9C461.2 1673.7 453.4 1676.9 449.3 1676.4C445.1 1675.9 443.2 1673.4 440.5 1670.8C437.8 1668.3 434.2 1668 432.9 1661.1C431.7 1654.2 432.5 1639.6 432.9 1629.4C433.3 1619.2 434.3 1607.2 435.5 1600C436.7 1592.7 437.5 1588.4 440.1 1585.6C442.6 1582.8 447 1583.7 450.8 1583.2Z" stroke="#529e4e" stroke-width="12.6" stroke-linejoin="round"/>
<path d="M452.5 1584C456.7 1582.9 459.8 1580.4 464.2 1580.2C468.5 1579.9 474.5 1580.9 478.5 1582.3C482.5 1583.7 485.8 1586.4 488.4 1588.6C491.1 1590.8 493.6 1588.9 494.4 1595.5C495.3 1602.2 493.9 1617.8 493.7 1628.4C493.6 1639 494.6 1652.2 493.6 1659.1C492.6 1666.1 490.8 1667.7 487.7 1670.2C484.7 1672.6 479.1 1673.4 475.3 1673.8C471.5 1674.2 469.5 1672.1 465 1672.5C460.5 1673 452.4 1676.8 448.2 1676.5C444.1 1676.2 442.6 1673.6 440.1 1670.5C437.6 1667.4 434.2 1664.4 433.2 1657.8C432.2 1651.2 433.9 1640.8 434.2 1631.1C434.6 1621.5 434.8 1607.3 435.5 1599.9C436.3 1592.6 435.9 1589.5 438.7 1586.9C441.5 1584.2 448.2 1585.2 452.5 1584Z" stroke="#529e4e" stroke-width="12.6" stroke-linejoin="round"/>
<rect x="1045.2" y="1220.7" width="61" height="92" rx="15" fill="#b9efbb" stroke="none"/>
<path d="M1060.4 1222.5C1064.2 1222.2 1068.7 1223.4 1073.8 1222.7C1078.9 1222 1086.5 1217.9 1091.1 1218.3C1095.8 1218.6 1099 1221.5 1101.7 1224.7C1104.3 1228 1106.4 1230.8 1107.2 1238C1107.9 1245.1 1106.5 1257.5 1106.2 1267.7C1106 1277.9 1106.6 1292.3 1105.7 1299.2C1104.8 1306.1 1103.3 1306.8 1100.6 1309.1C1098 1311.5 1093.9 1312.7 1089.5 1313.2C1085.1 1313.7 1079.4 1312.2 1074.2 1312C1069 1311.8 1062.5 1312.6 1058.5 1312C1054.4 1311.4 1052.2 1310.7 1049.9 1308.4C1047.6 1306.1 1045.1 1305.2 1044.7 1298.2C1044.2 1291.1 1046.8 1276.4 1047 1266C1047.2 1255.6 1045 1242.5 1045.7 1235.6C1046.4 1228.7 1048.7 1226.8 1051.1 1224.6C1053.6 1222.4 1056.6 1222.8 1060.4 1222.5Z" stroke="#529e4e" stroke-width="12.6" stroke-linejoin="round"/>
<path d="M1061.3 1219.3C1065.2 1219 1069.4 1221.9 1074.5 1221.9C1079.6 1221.9 1087.3 1218.8 1091.7 1219.5C1096 1220.2 1098.2 1223.2 1100.5 1226.1C1102.8 1229 1104.7 1230 1105.6 1236.9C1106.5 1243.7 1105.8 1256.8 1105.9 1267.4C1106.1 1277.9 1107 1293.4 1106.6 1300.2C1106.1 1307.1 1105.7 1306.4 1103.2 1308.2C1100.6 1310.1 1095.5 1311 1091.2 1311.4C1086.9 1311.8 1082.4 1310.2 1077.1 1310.7C1071.7 1311.2 1064 1314.9 1059.2 1314.6C1054.4 1314.3 1050.4 1311.8 1048.2 1309C1045.9 1306.2 1046.2 1305.4 1045.6 1298C1044.9 1290.7 1044 1275.1 1044.4 1264.9C1044.7 1254.8 1046.5 1244 1047.6 1237.1C1048.6 1230.3 1048.3 1226.8 1050.6 1223.9C1052.9 1220.9 1057.3 1219.7 1061.3 1219.3Z" stroke="#529e4e" stroke-width="12.6" stroke-linejoin="round"/>
<path d="M1049.3 1317.2C1007.5 1353 967.8 1388.3 926.1 1424.3" stroke="#1e1e1e" stroke-width="4.6"/>
<path d="M1050.5 1317.6C1007.6 1352.9 967.9 1386.3 927.2 1424.6" stroke="#1e1e1e" stroke-width="4.6"/>
<path d="M957.7 1363.1C947.7 1382.7 937.3 1403.1 925.6 1423.7" stroke="#1e1e1e" stroke-width="2.4"/>
<path d="M958.1 1363C948.6 1383.8 937.5 1403.5 926.6 1423.5" stroke="#1e1e1e" stroke-width="2.4"/>
<path d="M989.1 1399.3C967.7 1406.2 948 1415 926.7 1424.4" stroke="#1e1e1e" stroke-width="2.4"/>
<path d="M988.6 1398.9C968.8 1406.9 947.4 1414.9 925.8 1424.4" stroke="#1e1e1e" stroke-width="2.4"/>
<path d="M993.2 1336.4C1010.7 1331.1 1029.7 1324.3 1050.7 1318.3" stroke="#1e1e1e" stroke-width="2.4"/>
<path d="M993.3 1336.7C1011.6 1329.6 1029.6 1324.1 1050.6 1317.3" stroke="#1e1e1e" stroke-width="2.4"/>
<path d="M1024.3 1372.1C1032.4 1354.1 1041.2 1336.5 1050.5 1318" stroke="#1e1e1e" stroke-width="2.4"/>
<path d="M1024 1371C1032.4 1353.1 1041 1336.2 1050.3 1317.9" stroke="#1e1e1e" stroke-width="2.4"/>
<path d="M1085.2 1327.1C1082.9 1402.6 1083.1 1476 1083 1550.1" stroke="#1e1e1e" stroke-width="4.6"/>
<path d="M1085.9 1329.1C1082.8 1401.9 1082.4 1475.1 1082.3 1550.5" stroke="#1e1e1e" stroke-width="4.6"/>
<path d="M1056.8 1483C1064.9 1506.1 1074.8 1527 1084.2 1549.8" stroke="#1e1e1e" stroke-width="2.4"/>
<path d="M1058 1483.3C1067.1 1505.5 1074.5 1526.6 1083.5 1550.6" stroke="#1e1e1e" stroke-width="2.4"/>
<path d="M1104.8 1483.5C1096.6 1504.4 1090.5 1527 1083.4 1550.2" stroke="#1e1e1e" stroke-width="2.4"/>
<path d="M1104 1482.7C1096.7 1505.9 1089.8 1527 1083.8 1550.4" stroke="#1e1e1e" stroke-width="2.4"/>
<path d="M1063.5 1394.5C1070.5 1371.7 1077.4 1349.9 1084.7 1327.6" stroke="#1e1e1e" stroke-width="2.4"/>
<path d="M1063 1393.6C1071.5 1372.7 1078.7 1350.7 1084.7 1327.7" stroke="#1e1e1e" stroke-width="2.4"/>
<path d="M1110.4 1395.1C1102 1373.2 1092.7 1351.8 1084.5 1327.9" stroke="#1e1e1e" stroke-width="2.4"/>
<path d="M1109.8 1394.9C1102.2 1373.4 1094 1350.4 1085.5 1328.5" stroke="#1e1e1e" stroke-width="2.4"/>
<path d="M1116.6 1312.9C1156.7 1348.9 1196.5 1386.2 1240.8 1420.7" stroke="#1e1e1e" stroke-width="4.6"/>
<path d="M1115.2 1314C1157.3 1349.2 1197.7 1384.6 1241.2 1423.1" stroke="#1e1e1e" stroke-width="4.6"/>
<path d="M1204.5 1359.9C1216.4 1381.8 1227.5 1401.2 1240.3 1422.6" stroke="#1e1e1e" stroke-width="2.4"/>
<path d="M1204.6 1361.2C1216.8 1379.8 1228.3 1400.3 1239.3 1421.5" stroke="#1e1e1e" stroke-width="2.4"/>
<path d="M1174 1395.6C1196 1404.5 1217.1 1412 1240.1 1422.4" stroke="#1e1e1e" stroke-width="2.4"/>
<path d="M1173.7 1395.9C1195.5 1403.4 1217.9 1412.1 1240.7 1422" stroke="#1e1e1e" stroke-width="2.4"/>
<path d="M1183.3 1337.9C1160.6 1328.9 1139.5 1321.9 1116.2 1313.6" stroke="#1e1e1e" stroke-width="2.4"/>
<path d="M1182.9 1337.8C1159.8 1330.8 1137.9 1321.4 1115.3 1312.5" stroke="#1e1e1e" stroke-width="2.4"/>
<path d="M1152 1373C1138.9 1352.6 1127.4 1332.9 1116.2 1312.9" stroke="#1e1e1e" stroke-width="2.4"/>
<path d="M1151.7 1372.8C1139.2 1353.1 1128.4 1333.7 1116 1313.2" stroke="#1e1e1e" stroke-width="2.4"/>
<path d="M877.1 1464.9C864.1 1474.7 852.5 1483.5 838.7 1492.7" stroke="#1e1e1e" stroke-width="4"/>
<path d="M877 1465.8C865 1473.7 852.2 1482.5 838.7 1491.5" stroke="#1e1e1e" stroke-width="4"/>
<path d="M853.8 1468C849 1476.1 844.4 1483.9 839.2 1491.8" stroke="#1e1e1e" stroke-width="1.8"/>
<path d="M853.5 1468.4C849.3 1476.2 843.7 1484 838.7 1492.1" stroke="#1e1e1e" stroke-width="1.8"/>
<path d="M866.4 1486.1C856.7 1488 847.9 1490.2 838.7 1491.9" stroke="#1e1e1e" stroke-width="1.8"/>
<path d="M865.9 1486C857.3 1488 848.2 1489.6 839 1491.9" stroke="#1e1e1e" stroke-width="1.8"/>
<path d="M862.3 1488.6C866.5 1481.1 872.1 1473.5 876.8 1464.6" stroke="#1e1e1e" stroke-width="1.8"/>
<path d="M862.2 1488.9C867.5 1480.5 872.5 1472.9 877.3 1465.4" stroke="#1e1e1e" stroke-width="1.8"/>
<path d="M850.3 1470.9C859.1 1469.3 868.2 1467.6 877 1464.8" stroke="#1e1e1e" stroke-width="1.8"/>
<path d="M849.3 1471.7C859.2 1469.2 867.4 1467.5 876.5 1465.6" stroke="#1e1e1e" stroke-width="1.8"/>
<path d="M891.5 1468.2C892.1 1491.1 895.6 1513.4 897.4 1536.4" stroke="#1e1e1e" stroke-width="4"/>
<path d="M890.9 1468.7C892.4 1490.3 894.3 1512.4 898.2 1536" stroke="#1e1e1e" stroke-width="4"/>
<path d="M883.1 1508.8C888.1 1517.5 892.6 1526.4 898.3 1536.2" stroke="#1e1e1e" stroke-width="1.8"/>
<path d="M883.6 1509.2C888.6 1517.5 893.5 1526.9 897.8 1536.5" stroke="#1e1e1e" stroke-width="1.8"/>
<path d="M906.8 1506C903.4 1515.4 901 1525.8 897.7 1536" stroke="#1e1e1e" stroke-width="1.8"/>
<path d="M906.8 1505.9C903.4 1515.8 900.4 1525.3 897.6 1536.1" stroke="#1e1e1e" stroke-width="1.8"/>
<path d="M905.4 1495.9C900.3 1486 895.6 1477.9 890.9 1467.9" stroke="#1e1e1e" stroke-width="1.8"/>
<path d="M905.3 1495.6C900.5 1487 896 1477.1 891.1 1468.1" stroke="#1e1e1e" stroke-width="1.8"/>
<path d="M882.8 1497.8C884.5 1487.6 887.9 1477.9 890.4 1468.3" stroke="#1e1e1e" stroke-width="1.8"/>
<path d="M882.5 1497.6C885.4 1488 887.9 1477.7 891.1 1468.2" stroke="#1e1e1e" stroke-width="1.8"/>
<path d="M905.2 1465.6C917.5 1476.9 931.1 1487.6 944.3 1499.6" stroke="#1e1e1e" stroke-width="4"/>
<path d="M904.6 1465.4C918.2 1476.8 930.6 1488.5 944.8 1500.5" stroke="#1e1e1e" stroke-width="4"/>
<path d="M915.2 1490.1C925.3 1493.2 934.6 1497.1 944.4 1499.7" stroke="#1e1e1e" stroke-width="1.8"/>
<path d="M915.7 1490.2C924.8 1493.4 934.6 1497.5 944.8 1500.8" stroke="#1e1e1e" stroke-width="1.8"/>
<path d="M930.8 1472.5C935.9 1482 940.2 1490.7 945.5 1500" stroke="#1e1e1e" stroke-width="1.8"/>
<path d="M930.9 1472.4C935.4 1482 940.2 1490.8 945.1 1500.1" stroke="#1e1e1e" stroke-width="1.8"/>
<path d="M933.8 1475C924.6 1471.4 914.7 1468.5 905 1465.6" stroke="#1e1e1e" stroke-width="1.8"/>
<path d="M934.1 1475.7C924 1472.1 914.1 1468.9 904.7 1465.2" stroke="#1e1e1e" stroke-width="1.8"/>
<path d="M919.1 1492.4C913.8 1483.8 909 1474.5 904.8 1464.4" stroke="#1e1e1e" stroke-width="1.8"/>
<path d="M918.4 1493.2C913.2 1483.7 909.5 1474.9 904.1 1465.5" stroke="#1e1e1e" stroke-width="1.8"/>
<rect x="880.2" y="1436.7" width="21.1" height="26.1" rx="5" fill="#b9efbb" stroke="none"/>
<path d="M884.9 1436.9C886.5 1436.7 889.3 1437.4 891.3 1437.4C893.3 1437.4 895.6 1436.7 896.9 1436.9C898.3 1437.1 898.7 1437.7 899.4 1438.5C900.2 1439.3 900.9 1440.1 901.4 1441.8C902 1443.5 902.5 1446.2 902.6 1448.8C902.6 1451.4 902.4 1455.1 902 1457.3C901.6 1459.5 901.2 1461.1 900.2 1462C899.1 1463 897.3 1462.8 895.7 1463C894.1 1463.1 892.7 1462.7 890.8 1462.8C888.9 1462.8 885.8 1463.3 884.3 1463.1C882.9 1462.9 883.1 1462.3 882.3 1461.6C881.5 1460.8 880 1460.7 879.7 1458.6C879.3 1456.5 879.9 1451.7 880 1448.8C880.1 1446 880.2 1443.3 880.5 1441.6C880.8 1440 881 1439.7 881.7 1438.9C882.5 1438.2 883.3 1437.2 884.9 1436.9Z" stroke="#529e4e" stroke-width="11" stroke-linejoin="round"/>
<path d="M885.4 1437.9C886.8 1437.7 888.7 1437.7 890.4 1437.4C892 1437.1 893.6 1436 895.2 1436.2C896.8 1436.4 899 1437.6 900.1 1438.5C901.3 1439.3 902 1439.6 902.1 1441.4C902.2 1443.2 900.8 1446.9 900.7 1449.4C900.6 1451.9 901.6 1454.5 901.4 1456.5C901.2 1458.6 900.6 1460.6 899.6 1461.6C898.6 1462.5 896.7 1461.9 895.4 1462.3C894.1 1462.7 893.5 1464 891.7 1463.9C889.9 1463.9 886.3 1462.5 884.6 1461.9C882.8 1461.4 881.7 1461.3 881.1 1460.7C880.5 1460.1 881.2 1460.2 881 1458.4C880.7 1456.6 879.6 1452.7 879.6 1449.7C879.6 1446.7 880.3 1442.3 880.7 1440.5C881.2 1438.7 881.4 1439.2 882.2 1438.7C883 1438.3 884 1438.1 885.4 1437.9Z" stroke="#529e4e" stroke-width="11" stroke-linejoin="round"/>
<path d="M815.5 1484.7C817.3 1484.5 820.6 1484 823 1483.8C825.4 1483.6 828.2 1483.2 829.8 1483.5C831.3 1483.7 831.6 1484.3 832.3 1485.4C832.9 1486.5 833.4 1487.9 833.6 1490C833.9 1492.2 833.7 1495.6 834 1498.3C834.2 1501 835.4 1504 835.1 1506.1C834.7 1508.1 833.1 1509.4 831.9 1510.5C830.7 1511.7 829.5 1512.8 827.9 1513C826.2 1513.2 824.1 1511.7 822.1 1511.6C820.1 1511.6 817.5 1512.8 816 1512.6C814.6 1512.5 814.3 1511.6 813.3 1510.6C812.4 1509.6 810.6 1508.6 810.4 1506.4C810.1 1504.2 811.4 1500 811.8 1497.3C812.1 1494.6 812.1 1492.1 812.2 1490.2C812.3 1488.2 811.7 1486.4 812.3 1485.5C812.8 1484.6 813.7 1485 815.5 1484.7Z" stroke="#529e4e" stroke-width="11" stroke-linejoin="round"/>
<path d="M815.5 1484.8C817 1484.7 819.3 1484.7 821.3 1484.7C823.3 1484.8 825.8 1484.9 827.6 1485.1C829.5 1485.3 831.5 1485.3 832.4 1485.8C833.2 1486.3 832.6 1485.8 832.7 1488C832.9 1490.3 833.2 1496 833.4 1499.3C833.6 1502.5 834.3 1506 834 1507.7C833.8 1509.5 832.7 1508.9 831.6 1509.7C830.6 1510.5 829.2 1512 827.5 1512.3C825.9 1512.5 823.5 1511.2 821.7 1511.2C819.8 1511.2 818.2 1512.4 816.6 1512.3C815.1 1512.1 813.4 1511.2 812.4 1510.3C811.4 1509.4 810.9 1509.1 810.7 1506.9C810.4 1504.8 810.9 1500.7 810.8 1497.6C810.8 1494.6 810.3 1490.8 810.6 1488.7C810.8 1486.6 811.5 1485.6 812.3 1484.9C813.1 1484.3 814 1484.8 815.5 1484.8Z" stroke="#529e4e" stroke-width="11" stroke-linejoin="round"/>
<path d="M954.7 1493.5C956.2 1493 958.9 1492.3 961.4 1492.2C963.9 1492.2 967.9 1492.8 969.7 1493.1C971.5 1493.5 971.5 1493.4 972.3 1494.4C973.2 1495.3 974.5 1496.8 974.8 1498.9C975.1 1500.9 974.2 1504.1 974.1 1506.7C974 1509.2 974.6 1512.5 974.3 1514.3C974 1516.1 973.1 1516.8 972.2 1517.6C971.3 1518.5 970.5 1518.9 968.8 1519.2C967.1 1519.5 964.2 1519.2 962.1 1519.4C959.9 1519.6 957.8 1520.7 956 1520.3C954.2 1519.9 952.3 1518.3 951.2 1517.1C950.2 1515.9 949.7 1514.8 949.7 1513.1C949.7 1511.3 951 1509.2 951 1506.6C951 1504 949.4 1499.3 949.7 1497.4C949.9 1495.5 951.4 1495.9 952.3 1495.2C953.1 1494.5 953.2 1494 954.7 1493.5Z" stroke="#529e4e" stroke-width="11" stroke-linejoin="round"/>
<path d="M955.7 1493.7C957.5 1493.4 960.5 1493.2 962.6 1493.1C964.8 1493 966.8 1493 968.5 1493.4C970.2 1493.7 971.9 1494.5 972.9 1495.4C974 1496.4 974.9 1497.4 974.9 1499.1C974.8 1500.8 972.7 1503 972.7 1505.6C972.7 1508.1 975.1 1512.4 975 1514.4C975 1516.4 973.2 1516.7 972.3 1517.5C971.5 1518.3 971.2 1519.2 969.7 1519.3C968.2 1519.4 965.5 1518.4 963.3 1518.2C961.1 1518 958.5 1518.1 956.5 1518C954.5 1517.9 952.1 1518.4 951.1 1517.6C950.1 1516.9 950.7 1515 950.6 1513.3C950.5 1511.6 950.5 1509.8 950.4 1507.4C950.3 1505 949.8 1501 950 1498.9C950.3 1496.8 950.9 1495.7 951.8 1494.8C952.8 1493.9 953.9 1494 955.7 1493.7Z" stroke="#529e4e" stroke-width="11" stroke-linejoin="round"/>
<path d="M890.4 1540.1C892.4 1540 896.8 1540.7 899 1540.7C901.3 1540.7 902.5 1540 904 1540.1C905.6 1540.2 907.4 1540.5 908.4 1541.4C909.4 1542.3 910 1543.6 910 1545.6C910 1547.5 908.5 1550.5 908.5 1553.3C908.6 1556 910.3 1559.8 910.2 1562C910 1564.3 908.6 1565.6 907.7 1566.7C906.7 1567.9 905.9 1569 904.4 1569C902.8 1569 900.3 1567 898.2 1566.7C896 1566.4 893.2 1567.2 891.6 1567.2C889.9 1567.2 889 1567.6 888.2 1566.7C887.4 1565.7 887.4 1563.6 886.9 1561.6C886.4 1559.7 885.3 1557.6 885 1554.8C884.7 1551.9 885 1546.7 885.3 1544.4C885.6 1542.2 886.1 1541.9 886.9 1541.2C887.8 1540.4 888.3 1540.2 890.4 1540.1Z" stroke="#529e4e" stroke-width="11" stroke-linejoin="round"/>
<path d="M891.1 1541.4C892.8 1541.1 895.1 1539.9 897.5 1539.6C900 1539.3 903.8 1539 905.6 1539.4C907.5 1539.8 907.7 1541.1 908.5 1541.9C909.4 1542.6 910.7 1542.1 910.9 1544C911.2 1546 910 1550.7 909.9 1553.7C909.9 1556.7 910.8 1560.1 910.6 1562.1C910.4 1564.2 909.6 1564.7 908.7 1565.8C907.7 1567 906.7 1568.8 904.8 1569C902.9 1569.2 899.4 1567.3 897.3 1567.2C895.2 1567.1 894 1568.5 892.3 1568.2C890.6 1568 888.1 1566.8 887 1565.8C885.9 1564.8 885.5 1564.1 885.5 1562.2C885.5 1560.4 886.8 1557.3 887.1 1554.5C887.4 1551.8 887.3 1547.8 887.5 1545.7C887.6 1543.5 887.3 1542.2 887.9 1541.5C888.5 1540.8 889.5 1541.7 891.1 1541.4Z" stroke="#529e4e" stroke-width="11" stroke-linejoin="round"/>
<path d="M1068 1598.3C1055.4 1607.5 1042 1618.4 1030 1627.3" stroke="#1e1e1e" stroke-width="4"/>
<path d="M1067.7 1598.4C1055 1608.5 1043 1618.3 1030.1 1628.2" stroke="#1e1e1e" stroke-width="4"/>
<path d="M1044.4 1602.7C1040.3 1610.6 1034.6 1619.1 1030.3 1627" stroke="#1e1e1e" stroke-width="1.8"/>
<path d="M1044.9 1603.4C1039.2 1611.4 1034.4 1618.7 1030.3 1627.8" stroke="#1e1e1e" stroke-width="1.8"/>
<path d="M1057 1620.6C1048 1623.3 1039.6 1625.8 1029.9 1627" stroke="#1e1e1e" stroke-width="1.8"/>
<path d="M1057.1 1619.9C1048.2 1623 1039 1624.9 1029.6 1627" stroke="#1e1e1e" stroke-width="1.8"/>
<path d="M1053.1 1623C1058 1615.3 1062.5 1607.4 1068.1 1599" stroke="#1e1e1e" stroke-width="1.8"/>
<path d="M1053.1 1622.8C1057.8 1615.3 1063.4 1606.8 1068.5 1599.1" stroke="#1e1e1e" stroke-width="1.8"/>
<path d="M1040.7 1606.2C1049 1603.6 1058.4 1601.7 1068.2 1599.5" stroke="#1e1e1e" stroke-width="1.8"/>
<path d="M1040.7 1606.8C1050 1604.4 1058.2 1602.2 1067.6 1598.9" stroke="#1e1e1e" stroke-width="1.8"/>
<path d="M1083.1 1601.8C1085.3 1624.9 1087.7 1648.4 1090.2 1671.7" stroke="#1e1e1e" stroke-width="4"/>
<path d="M1082.7 1602.7C1084.6 1624.2 1087.4 1646.9 1089.4 1670.8" stroke="#1e1e1e" stroke-width="4"/>
<path d="M1075.1 1643.5C1080.1 1653.2 1085.5 1661.5 1090.1 1670.6" stroke="#1e1e1e" stroke-width="1.8"/>
<path d="M1075.6 1643.3C1080.3 1652.5 1084.5 1661.1 1090.4 1670.6" stroke="#1e1e1e" stroke-width="1.8"/>
<path d="M1098.2 1640.9C1095.4 1651.4 1092.8 1660.9 1090.6 1671.2" stroke="#1e1e1e" stroke-width="1.8"/>
<path d="M1098.9 1641.7C1095.4 1650.8 1093 1660.8 1089.9 1670.8" stroke="#1e1e1e" stroke-width="1.8"/>
<path d="M1096.7 1629.7C1092.6 1619.8 1087 1611.1 1083.1 1601.6" stroke="#1e1e1e" stroke-width="1.8"/>
<path d="M1097.4 1629.4C1091.6 1619.9 1086.8 1611.3 1082.7 1602.6" stroke="#1e1e1e" stroke-width="1.8"/>
<path d="M1074.3 1631.9C1076.6 1622.2 1079.3 1611.9 1082.9 1601.8" stroke="#1e1e1e" stroke-width="1.8"/>
<path d="M1073.7 1631.3C1076.7 1622.3 1079.2 1611.6 1082.5 1601.6" stroke="#1e1e1e" stroke-width="1.8"/>
<path d="M1097.4 1599.6C1110.8 1610.7 1124.4 1621.4 1137.6 1633.4" stroke="#1e1e1e" stroke-width="4"/>
<path d="M1097.2 1598.9C1109.8 1610.7 1123.6 1621.8 1136.7 1633.2" stroke="#1e1e1e" stroke-width="4"/>
<path d="M1107.6 1623.7C1118.2 1626.2 1127.5 1629.7 1137.7 1633.8" stroke="#1e1e1e" stroke-width="1.8"/>
<path d="M1107.9 1624.1C1117.7 1626.8 1128 1629.6 1137.5 1633.1" stroke="#1e1e1e" stroke-width="1.8"/>
<path d="M1122.5 1606C1127.8 1615 1133 1623.8 1137.1 1632.8" stroke="#1e1e1e" stroke-width="1.8"/>
<path d="M1122.9 1606.3C1128.4 1614.8 1132.3 1623.4 1137.2 1632.7" stroke="#1e1e1e" stroke-width="1.8"/>
<path d="M1126.7 1608.2C1116.7 1605.4 1106.5 1602.6 1097.2 1598.7" stroke="#1e1e1e" stroke-width="1.8"/>
<path d="M1126 1609C1116.9 1605.6 1107.5 1602.7 1096.5 1598.4" stroke="#1e1e1e" stroke-width="1.8"/>
<path d="M1110.9 1626.6C1107 1617.1 1101.9 1607.9 1097 1598.8" stroke="#1e1e1e" stroke-width="1.8"/>
<path d="M1112 1626.6C1107.4 1617.6 1101.6 1608.2 1096.8 1599.3" stroke="#1e1e1e" stroke-width="1.8"/>
<rect x="1071.2" y="1570.2" width="22.6" height="26.6" rx="5" fill="#b9efbb" stroke="none"/>
<path d="M1075.3 1570.3C1077 1570.2 1081.5 1571.2 1083.7 1571.2C1085.8 1571.2 1086.7 1570.4 1088.1 1570.3C1089.5 1570.3 1091 1570.2 1092 1571.2C1093.1 1572.1 1094.2 1573.9 1094.4 1575.9C1094.6 1577.9 1093.4 1580.5 1093.4 1583.3C1093.3 1586 1094.5 1590.5 1094.3 1592.4C1094.1 1594.3 1093.4 1594.1 1092.3 1594.7C1091.2 1595.3 1089.2 1595.6 1087.7 1595.9C1086.2 1596.3 1085.2 1596.7 1083.3 1596.8C1081.5 1596.9 1078.4 1596.8 1076.6 1596.4C1074.8 1596.1 1073.2 1595.5 1072.5 1594.8C1071.8 1594.1 1072.8 1593.9 1072.4 1592.1C1072.1 1590.3 1070.4 1586.8 1070.2 1584C1070.1 1581.3 1071 1577.5 1071.5 1575.5C1071.9 1573.5 1072.5 1572.7 1073.1 1571.8C1073.7 1571 1073.5 1570.4 1075.3 1570.3Z" stroke="#529e4e" stroke-width="11" stroke-linejoin="round"/>
<path d="M1077.2 1571.4C1078.9 1571.2 1080.4 1570.8 1082.3 1570.6C1084.1 1570.4 1086.8 1569.8 1088.5 1570C1090.1 1570.2 1091.3 1571.1 1092.1 1571.9C1092.9 1572.7 1093 1572.8 1093.4 1574.8C1093.8 1576.9 1094.5 1581.3 1094.7 1584.3C1094.8 1587.3 1094.7 1590.8 1094.2 1592.7C1093.8 1594.6 1093.2 1594.9 1092.1 1595.5C1091.1 1596.1 1089.9 1596 1088.1 1596.3C1086.4 1596.6 1083.3 1597.6 1081.5 1597.6C1079.7 1597.6 1078.8 1596.7 1077.3 1596.3C1075.8 1595.8 1073.7 1595.4 1072.5 1594.7C1071.3 1594 1070.3 1594.2 1070.3 1592.1C1070.2 1590.1 1072.2 1585.1 1072.2 1582.4C1072.3 1579.7 1070.6 1577.6 1070.6 1575.9C1070.6 1574.2 1071.1 1573 1072.3 1572.3C1073.4 1571.5 1075.5 1571.7 1077.2 1571.4Z" stroke="#529e4e" stroke-width="11" stroke-linejoin="round"/>
<path d="M1007.3 1619.1C1008.9 1618.8 1010.9 1618.8 1013 1618.7C1015 1618.6 1017.8 1618.4 1019.6 1618.6C1021.4 1618.9 1022.8 1618.9 1023.7 1619.9C1024.6 1621 1025 1622.9 1025.1 1625C1025.3 1627.1 1024.6 1629.9 1024.3 1632.7C1024.1 1635.5 1023.9 1639.4 1023.8 1641.7C1023.7 1644 1024.7 1645.5 1023.8 1646.5C1022.9 1647.5 1020.2 1647.5 1018.5 1647.7C1016.9 1647.8 1016 1647.3 1014 1647.3C1012 1647.3 1008.2 1647.6 1006.5 1647.6C1004.8 1647.5 1004.6 1647.7 1004 1647.1C1003.3 1646.4 1002.4 1646.1 1002.4 1643.9C1002.3 1641.7 1003.8 1636.8 1003.7 1633.7C1003.6 1630.5 1001.8 1627.2 1001.7 1625C1001.7 1622.9 1002.6 1621.7 1003.5 1620.8C1004.5 1619.8 1005.8 1619.5 1007.3 1619.1Z" stroke="#529e4e" stroke-width="11" stroke-linejoin="round"/>
<path d="M1006.7 1618.2C1008.2 1617.8 1011.1 1618.1 1013.5 1618.3C1015.9 1618.5 1019.3 1618.9 1021.1 1619.4C1022.8 1619.9 1023.2 1620.5 1023.9 1621.4C1024.7 1622.3 1025.3 1622.5 1025.5 1624.6C1025.6 1626.7 1024.8 1631.3 1024.7 1634.2C1024.7 1637.1 1025.4 1639.9 1025.2 1641.9C1025 1643.9 1024.3 1645.1 1023.4 1646.2C1022.5 1647.3 1021.3 1648 1019.8 1648.3C1018.3 1648.6 1016.1 1647.9 1014.2 1648C1012.3 1648 1010.2 1649 1008.5 1648.6C1006.7 1648.3 1004.7 1646.9 1003.5 1645.8C1002.4 1644.6 1001.5 1644 1001.5 1641.9C1001.6 1639.8 1003.7 1636 1003.9 1633C1004.1 1630 1002.5 1626.2 1002.6 1624.1C1002.6 1622 1003.6 1621.3 1004.3 1620.3C1005 1619.3 1005.1 1618.5 1006.7 1618.2Z" stroke="#529e4e" stroke-width="11" stroke-linejoin="round"/>
<path d="M1148.4 1625.3C1150.1 1625.2 1153 1626.4 1154.6 1626.5C1156.3 1626.6 1157.1 1625.6 1158.5 1625.8C1159.8 1626.1 1161.8 1627.1 1162.7 1627.8C1163.5 1628.5 1163.2 1628.2 1163.7 1630.1C1164.1 1632.1 1165.2 1636.6 1165.5 1639.5C1165.7 1642.4 1165.6 1645.7 1165.2 1647.6C1164.9 1649.5 1164.3 1650.1 1163.4 1650.9C1162.4 1651.6 1161.2 1652 1159.7 1652.2C1158.2 1652.3 1156.4 1651.8 1154.2 1651.8C1152.1 1651.7 1148.4 1652.1 1146.8 1652C1145.1 1651.9 1145.1 1651.9 1144.2 1651.4C1143.3 1651 1141.5 1651.1 1141.4 1649.1C1141.3 1647 1143.5 1641.9 1143.6 1638.9C1143.7 1636 1141.6 1633.6 1141.8 1631.6C1142.1 1629.5 1143.8 1627.7 1144.9 1626.7C1146 1625.6 1146.8 1625.3 1148.4 1625.3Z" stroke="#529e4e" stroke-width="11" stroke-linejoin="round"/>
<path d="M1148.4 1626.5C1150.3 1626.2 1153.2 1625.2 1154.9 1625C1156.6 1624.7 1157.5 1624.4 1158.8 1624.8C1160.1 1625.3 1161.7 1626.8 1162.9 1627.8C1164.1 1628.8 1165.7 1628.8 1165.9 1630.6C1166 1632.5 1164.1 1635.9 1163.8 1638.9C1163.5 1641.8 1164.1 1646 1164.1 1648.2C1164.1 1650.3 1164.4 1651 1163.7 1651.8C1162.9 1652.5 1161.3 1652.6 1159.6 1652.7C1158 1652.8 1155.7 1652.3 1153.7 1652.4C1151.7 1652.5 1149.1 1653.5 1147.6 1653.3C1146.1 1653 1145.3 1652.1 1144.5 1651C1143.7 1650 1143.4 1648.9 1142.9 1646.9C1142.4 1644.8 1141.6 1641.8 1141.5 1639C1141.4 1636.1 1142 1631.5 1142.3 1629.5C1142.7 1627.5 1142.5 1627.6 1143.5 1627.1C1144.5 1626.6 1146.5 1626.9 1148.4 1626.5Z" stroke="#529e4e" stroke-width="11" stroke-linejoin="round"/>
<path d="M1084.9 1676.1C1086.3 1675.6 1086.9 1675 1088.8 1674.7C1090.6 1674.5 1094.2 1674.4 1095.9 1674.7C1097.7 1675.1 1098.2 1676 1099.3 1676.8C1100.3 1677.7 1102 1678 1102.2 1679.9C1102.4 1681.8 1100.8 1684.9 1100.4 1688C1100.1 1691.1 1100.2 1696.2 1100 1698.5C1099.9 1700.8 1099.9 1701.1 1099.4 1701.7C1098.9 1702.2 1098.7 1701.6 1097 1701.7C1095.3 1701.8 1091.3 1702 1089.2 1702.3C1087.1 1702.6 1086 1703.6 1084.4 1703.4C1082.9 1703.2 1080.9 1702.2 1079.9 1701.2C1078.9 1700.3 1078.4 1699.9 1078.3 1697.7C1078.3 1695.6 1079.3 1691.1 1079.5 1688.4C1079.7 1685.6 1079.4 1683.1 1079.5 1681.3C1079.7 1679.5 1079.4 1678.3 1080.3 1677.4C1081.2 1676.5 1083.5 1676.5 1084.9 1676.1Z" stroke="#529e4e" stroke-width="11" stroke-linejoin="round"/>
<path d="M1084.9 1674.4C1086.7 1674 1089.2 1674.5 1091.3 1674.4C1093.3 1674.4 1095.7 1673.9 1097.1 1674.2C1098.4 1674.6 1098.7 1675.5 1099.5 1676.6C1100.4 1677.7 1102 1678.4 1102.2 1680.7C1102.3 1682.9 1100.5 1687.2 1100.5 1690C1100.5 1692.9 1102.5 1696 1102.2 1697.8C1102 1699.6 1100.2 1700.2 1099.1 1701C1098 1701.8 1097.1 1702.2 1095.7 1702.6C1094.4 1702.9 1093 1703.2 1091.2 1703C1089.3 1702.9 1086.4 1701.9 1084.5 1701.7C1082.7 1701.4 1080.8 1702.4 1079.8 1701.7C1078.7 1700.9 1078.7 1699.4 1078.3 1697.1C1077.9 1694.8 1077.5 1690.6 1077.6 1687.8C1077.6 1685 1078.1 1682.2 1078.5 1680.3C1078.9 1678.5 1079 1677.8 1080 1676.8C1081.1 1675.8 1083 1674.8 1084.9 1674.4Z" stroke="#529e4e" stroke-width="11" stroke-linejoin="round"/>
<path d="M1238.2 1458.3C1226.5 1467.2 1213.7 1476.6 1201.2 1486.5" stroke="#1e1e1e" stroke-width="4"/>
<path d="M1238.4 1457.2C1227.3 1467.3 1214.3 1477 1201.5 1485.7" stroke="#1e1e1e" stroke-width="4"/>
<path d="M1215.5 1462.6C1211.2 1470.7 1206.6 1478.7 1201.6 1486.5" stroke="#1e1e1e" stroke-width="1.8"/>
<path d="M1216.4 1462.5C1211.1 1470.2 1206.3 1478.5 1201.7 1486.5" stroke="#1e1e1e" stroke-width="1.8"/>
<path d="M1228.2 1479.4C1220.2 1480.8 1210.7 1483.6 1201.6 1486.6" stroke="#1e1e1e" stroke-width="1.8"/>
<path d="M1228.4 1479.1C1219.7 1481.6 1210.5 1484.2 1201.1 1486.8" stroke="#1e1e1e" stroke-width="1.8"/>
<path d="M1224.2 1482.6C1228.8 1473.6 1234.1 1466.4 1239.5 1458.3" stroke="#1e1e1e" stroke-width="1.8"/>
<path d="M1225.1 1482.3C1228.9 1473.7 1234.3 1466.7 1238.4 1458" stroke="#1e1e1e" stroke-width="1.8"/>
<path d="M1211.7 1465.2C1220.5 1462.7 1229.6 1460.2 1239.2 1457.5" stroke="#1e1e1e" stroke-width="1.8"/>
<path d="M1212.3 1465.9C1220.4 1462.7 1229.7 1460.7 1239.5 1458.4" stroke="#1e1e1e" stroke-width="1.8"/>
<path d="M1252.8 1461.8C1254.7 1483.3 1258.2 1507.1 1260.2 1529.2" stroke="#1e1e1e" stroke-width="4"/>
<path d="M1252.6 1460.6C1255.7 1483.1 1259.3 1507.2 1261 1530.6" stroke="#1e1e1e" stroke-width="4"/>
<path d="M1245.8 1503C1250.3 1511.8 1255.6 1520.6 1260.8 1530" stroke="#1e1e1e" stroke-width="1.8"/>
<path d="M1245.4 1503.2C1251.2 1512.3 1256 1521.2 1260.2 1529.7" stroke="#1e1e1e" stroke-width="1.8"/>
<path d="M1269.3 1500.3C1266.3 1510.4 1262.6 1519.3 1260 1530.3" stroke="#1e1e1e" stroke-width="1.8"/>
<path d="M1268.9 1500.6C1266.2 1510.2 1263.5 1519.7 1261.1 1529.9" stroke="#1e1e1e" stroke-width="1.8"/>
<path d="M1267.1 1488.8C1262.8 1478.9 1258 1470.5 1253.3 1461.4" stroke="#1e1e1e" stroke-width="1.8"/>
<path d="M1267.2 1487.7C1262.5 1479 1257.9 1470.5 1252.9 1460.7" stroke="#1e1e1e" stroke-width="1.8"/>
<path d="M1244.8 1490.3C1247.9 1481.2 1250.2 1471 1253.4 1461.1" stroke="#1e1e1e" stroke-width="1.8"/>
<path d="M1244.8 1490.3C1247.3 1481 1250.2 1471.6 1253.2 1461.5" stroke="#1e1e1e" stroke-width="1.8"/>
<path d="M1267.8 1457.9C1280.7 1470.3 1294.4 1481 1307.7 1492.9" stroke="#1e1e1e" stroke-width="4"/>
<path d="M1267.5 1458.2C1281.6 1469.5 1295.5 1480.5 1309.3 1492.9" stroke="#1e1e1e" stroke-width="4"/>
<path d="M1278.9 1482.6C1289.3 1486.5 1298.1 1490 1308.3 1492.6" stroke="#1e1e1e" stroke-width="1.8"/>
<path d="M1278.8 1483.1C1288.7 1486.5 1298.4 1489.8 1308 1492.9" stroke="#1e1e1e" stroke-width="1.8"/>
<path d="M1294 1465.1C1299.4 1474.1 1303.7 1483.4 1307.9 1492.5" stroke="#1e1e1e" stroke-width="1.8"/>
<path d="M1294 1464.9C1299.2 1474.7 1303.9 1483.5 1308.3 1492.5" stroke="#1e1e1e" stroke-width="1.8"/>
<path d="M1296.8 1467C1287.2 1464.8 1277.4 1460.6 1266.6 1458.3" stroke="#1e1e1e" stroke-width="1.8"/>
<path d="M1296.6 1467.7C1286.8 1464.1 1277.6 1461.1 1266.6 1458.6" stroke="#1e1e1e" stroke-width="1.8"/>
<path d="M1281.8 1485.1C1276.7 1476.2 1271.9 1467.9 1266.7 1457.8" stroke="#1e1e1e" stroke-width="1.8"/>
<path d="M1282 1485.9C1276.5 1476.3 1271.7 1466.7 1266.7 1458.4" stroke="#1e1e1e" stroke-width="1.8"/>
<rect x="1242.2" y="1426.7" width="21.6" height="29.1" rx="5" fill="#b9efbb" stroke="none"/>
<path d="M1248.4 1425.7C1250.1 1425.6 1252 1426.5 1253.6 1426.8C1255.1 1427.1 1256.1 1427.1 1257.5 1427.5C1258.8 1427.8 1260.4 1428.1 1261.6 1428.8C1262.8 1429.5 1264.3 1429.8 1264.6 1431.7C1264.9 1433.6 1263.7 1437 1263.6 1440C1263.6 1443 1264.5 1447.1 1264.3 1449.6C1264.1 1452.1 1263.2 1454.1 1262.4 1455C1261.5 1455.9 1260.7 1454.6 1259.2 1454.8C1257.8 1455 1255.7 1456 1253.6 1456.3C1251.5 1456.6 1248.4 1456.8 1246.8 1456.5C1245.1 1456.1 1244.6 1455.2 1243.8 1454.2C1243.1 1453.1 1242.6 1452.2 1242.3 1450.2C1241.9 1448.2 1241.7 1445.2 1241.7 1442.3C1241.6 1439.3 1241.5 1434.8 1241.8 1432.4C1242.1 1430 1242.4 1428.8 1243.5 1427.7C1244.6 1426.6 1246.7 1425.9 1248.4 1425.7Z" stroke="#529e4e" stroke-width="11" stroke-linejoin="round"/>
<path d="M1245.9 1427.9C1247.5 1427.8 1251.5 1428.4 1253.7 1428C1255.8 1427.6 1257.7 1425.7 1259 1425.6C1260.4 1425.5 1261 1426.4 1261.8 1427.5C1262.6 1428.6 1263.5 1429.8 1264.1 1432C1264.6 1434.2 1265.1 1437.7 1265 1440.7C1264.8 1443.7 1263.6 1447.9 1263.1 1450.1C1262.6 1452.2 1262.5 1452.7 1261.8 1453.6C1261 1454.5 1260.3 1455 1258.8 1455.6C1257.2 1456.1 1254.7 1456.8 1252.7 1457C1250.7 1457.1 1248.2 1457.2 1246.7 1456.6C1245.2 1456.1 1244.7 1454.6 1243.7 1453.7C1242.8 1452.8 1241.1 1453.3 1241 1451.1C1240.9 1448.8 1242.9 1443.4 1243.2 1440.1C1243.5 1436.7 1242.6 1432.9 1242.7 1431C1242.9 1429.1 1243.4 1429.2 1244 1428.7C1244.5 1428.2 1244.3 1428 1245.9 1427.9Z" stroke="#529e4e" stroke-width="11" stroke-linejoin="round"/>
<path d="M1180.8 1477.6C1182.1 1477.6 1182.9 1479.1 1184.9 1479.4C1186.8 1479.7 1190.7 1479.4 1192.4 1479.3C1194 1479.2 1194.3 1478.2 1194.9 1479C1195.5 1479.8 1195.9 1482.1 1195.9 1484.3C1196 1486.4 1195.3 1488.9 1195.2 1492C1195 1495 1195.2 1500.7 1195.1 1502.8C1195 1504.9 1195.3 1504.1 1194.6 1504.7C1193.9 1505.2 1192.4 1505.6 1190.9 1506C1189.4 1506.4 1187.3 1507.1 1185.6 1507.1C1183.9 1507 1182.1 1506.1 1180.6 1505.7C1179.2 1505.3 1177.7 1505.2 1176.7 1504.6C1175.8 1504.1 1175.4 1504.5 1175.1 1502.6C1174.7 1500.7 1174.7 1496.6 1174.6 1493.3C1174.5 1490.1 1174.1 1485.3 1174.5 1482.9C1175 1480.5 1176.1 1479.8 1177.1 1478.9C1178.2 1478 1179.5 1477.5 1180.8 1477.6Z" stroke="#529e4e" stroke-width="11" stroke-linejoin="round"/>
<path d="M1180.4 1478.3C1182.1 1478.2 1184.4 1479.5 1186.3 1479.4C1188.2 1479.2 1190.5 1477.5 1191.8 1477.5C1193.1 1477.5 1193.7 1478.7 1194.4 1479.7C1195 1480.6 1195.6 1481.1 1195.7 1483.4C1195.9 1485.6 1195.2 1490.1 1195.2 1493C1195.3 1495.9 1196.2 1498.4 1196.1 1500.6C1195.9 1502.8 1194.9 1504.8 1194.2 1506C1193.6 1507.2 1193.7 1507.4 1192.2 1507.8C1190.7 1508.1 1187.6 1508.1 1185.5 1508C1183.3 1508 1180.7 1507.9 1179.4 1507.4C1178 1506.8 1178.3 1506 1177.4 1504.9C1176.5 1503.8 1174.5 1502.7 1173.9 1500.8C1173.4 1498.9 1173.9 1496.2 1174.1 1493.3C1174.4 1490.3 1175.2 1485.4 1175.5 1483.2C1175.8 1480.9 1175.3 1480.7 1176.1 1479.9C1176.9 1479.1 1178.7 1478.4 1180.4 1478.3Z" stroke="#529e4e" stroke-width="11" stroke-linejoin="round"/>
<path d="M1317.8 1483.3C1319.3 1483 1322.5 1484.3 1324.7 1484.6C1327 1484.9 1329.6 1484.9 1331.1 1485.1C1332.5 1485.2 1332.7 1484.7 1333.3 1485.4C1333.8 1486.1 1334.2 1486.8 1334.4 1489.2C1334.5 1491.6 1333.8 1496.4 1334.1 1499.7C1334.3 1503 1335.8 1507 1335.8 1509.1C1335.7 1511.2 1334.6 1511.6 1333.8 1512.5C1333 1513.3 1332.6 1514.1 1331.2 1514.1C1329.7 1514.2 1327.4 1512.9 1325.3 1512.5C1323.2 1512.2 1319.9 1512.3 1318.3 1512.1C1316.7 1512 1316.1 1512.5 1315.6 1511.8C1315 1511 1315.3 1509.8 1315 1507.7C1314.6 1505.7 1313.5 1502.7 1313.5 1499.7C1313.5 1496.7 1314.6 1492.1 1314.9 1489.9C1315.3 1487.7 1315.3 1487.4 1315.8 1486.3C1316.2 1485.2 1316.3 1483.6 1317.8 1483.3Z" stroke="#529e4e" stroke-width="11" stroke-linejoin="round"/>
<path d="M1318.1 1484.5C1319.4 1484.3 1321.1 1484.7 1323.4 1484.7C1325.6 1484.6 1329.8 1484 1331.5 1484.2C1333.1 1484.4 1332.8 1485 1333.3 1485.8C1333.7 1486.6 1334 1487 1334.2 1489.1C1334.3 1491.2 1333.9 1495.2 1334.2 1498.5C1334.5 1501.8 1336.1 1506.7 1336.1 1508.9C1336.1 1511.1 1335.4 1511.2 1334.4 1511.8C1333.4 1512.3 1331.7 1511.8 1330.1 1512.1C1328.6 1512.4 1327.2 1513.4 1325.3 1513.5C1323.3 1513.5 1320.2 1512.8 1318.5 1512.4C1316.8 1512 1316.1 1512 1315.1 1511.1C1314.2 1510.3 1313 1509.4 1312.7 1507.2C1312.5 1505 1313.2 1500.8 1313.5 1497.8C1313.8 1494.9 1314.2 1491.5 1314.6 1489.5C1314.9 1487.5 1315.2 1486.6 1315.8 1485.8C1316.3 1484.9 1316.9 1484.7 1318.1 1484.5Z" stroke="#529e4e" stroke-width="11" stroke-linejoin="round"/>
<path d="M1253.8 1533.6C1255.6 1533.4 1259.2 1534.3 1261.4 1534.4C1263.5 1534.6 1265.4 1534.4 1266.7 1534.6C1268 1534.7 1268.4 1534.3 1269.1 1535.2C1269.9 1536.1 1270.6 1537.9 1271.1 1540.1C1271.7 1542.4 1272.5 1546 1272.4 1548.7C1272.4 1551.5 1271.1 1554.5 1270.7 1556.6C1270.2 1558.7 1270.5 1560.3 1269.9 1561.2C1269.4 1562.1 1269.1 1562 1267.4 1562C1265.7 1562.1 1262.1 1561.3 1259.7 1561.5C1257.4 1561.8 1254.8 1563.7 1253.5 1563.6C1252.2 1563.5 1252.6 1561.7 1251.8 1560.8C1250.9 1559.8 1248.9 1560 1248.5 1558C1248 1556 1248.7 1551.8 1249.1 1548.8C1249.4 1545.8 1250.5 1542 1250.8 1539.9C1251.1 1537.7 1250.3 1536.9 1250.8 1535.8C1251.3 1534.8 1252.1 1533.9 1253.8 1533.6Z" stroke="#529e4e" stroke-width="11" stroke-linejoin="round"/>
<path d="M1254.2 1534.9C1255.7 1534.8 1257.8 1535.1 1259.9 1535.2C1262 1535.2 1265.1 1535 1266.7 1535.2C1268.4 1535.4 1268.8 1535.8 1269.6 1536.4C1270.4 1536.9 1271.2 1536.6 1271.5 1538.6C1271.8 1540.5 1271.9 1545 1271.7 1548C1271.5 1551 1270.6 1554.4 1270.3 1556.6C1270 1558.7 1270.8 1559.8 1270 1560.9C1269.2 1562.1 1267 1563.1 1265.2 1563.5C1263.5 1563.9 1261.4 1563.6 1259.6 1563.4C1257.7 1563.3 1255.4 1562.7 1254.1 1562.4C1252.8 1562.2 1252.4 1562.4 1251.9 1561.8C1251.3 1561.3 1250.9 1561.1 1250.6 1559C1250.3 1557 1250.1 1552.9 1250 1549.6C1249.9 1546.4 1249.9 1541.8 1250 1539.4C1250.2 1537.1 1250.2 1536.2 1250.9 1535.5C1251.6 1534.7 1252.7 1534.9 1254.2 1534.9Z" stroke="#529e4e" stroke-width="11" stroke-linejoin="round"/>
<path d="M1536.1 1205.4C1540.4 1205.2 1545.7 1208.6 1550.5 1208.6C1555.3 1208.6 1561.2 1205 1564.9 1205.3C1568.7 1205.6 1570.7 1207.7 1572.9 1210.7C1575.2 1213.7 1577.4 1216.7 1578.4 1223.5C1579.4 1230.3 1578.9 1241.9 1579 1251.6C1579.2 1261.3 1580 1274.8 1579.3 1281.5C1578.6 1288.3 1577.5 1289.8 1574.9 1292.1C1572.4 1294.3 1568.6 1294.2 1564 1294.9C1559.5 1295.5 1552.2 1295.3 1547.8 1296C1543.4 1296.6 1541.6 1299.2 1537.7 1298.6C1533.9 1298 1527.3 1295 1524.5 1292.1C1521.7 1289.2 1521.7 1287.5 1520.8 1281C1519.9 1274.5 1519.4 1263.1 1519.1 1253C1518.7 1242.9 1517.7 1227.4 1518.6 1220.3C1519.5 1213.2 1521.5 1212.7 1524.4 1210.2C1527.4 1207.7 1531.8 1205.7 1536.1 1205.4Z" stroke="#529e4e" stroke-width="12.6" stroke-linejoin="round"/>
<path d="M1534.1 1204.5C1538.3 1203.7 1544.8 1204.6 1549.9 1205C1554.9 1205.5 1560.4 1206.2 1564.5 1207.3C1568.7 1208.3 1572.3 1208.8 1574.8 1211.1C1577.2 1213.3 1578.7 1213.8 1579.4 1220.7C1580 1227.6 1578.9 1242.2 1578.6 1252.5C1578.2 1262.8 1577.9 1275.7 1577.3 1282.5C1576.6 1289.3 1576.8 1291 1574.6 1293.4C1572.5 1295.7 1568.3 1296.2 1564.4 1296.5C1560.5 1296.8 1556 1295.3 1551.1 1295.2C1546.3 1295.1 1539.3 1296.4 1535.1 1295.9C1530.9 1295.5 1528.5 1294.6 1525.9 1292.6C1523.2 1290.5 1519.5 1290.5 1519.1 1283.6C1518.7 1276.8 1522.5 1261.7 1523.2 1251.5C1523.9 1241.3 1523.1 1229.3 1523.3 1222.4C1523.6 1215.4 1523 1212.8 1524.8 1209.8C1526.6 1206.9 1530 1205.3 1534.1 1204.5Z" stroke="#529e4e" stroke-width="12.6" stroke-linejoin="round"/>
<path d="M1791.7 1223.7C1796.2 1222.8 1803.7 1224 1808.9 1223.8C1814.1 1223.7 1818.8 1222.2 1822.7 1222.9C1826.7 1223.6 1830.3 1225.4 1832.6 1227.9C1835 1230.5 1836.2 1231.6 1837 1238.5C1837.7 1245.3 1837.6 1258.8 1837.1 1269.1C1836.7 1279.3 1834.9 1293.4 1834.1 1300.2C1833.4 1306.9 1834.2 1307.3 1832.5 1309.7C1830.8 1312 1828.1 1313.4 1823.7 1314.2C1819.3 1315 1811.1 1314.6 1806 1314.3C1801 1314.1 1797 1313.4 1793.5 1312.5C1790 1311.6 1787 1311.4 1784.8 1308.9C1782.6 1306.4 1781.3 1303.8 1780.3 1297.6C1779.4 1291.3 1779.9 1280.9 1779.3 1271.3C1778.8 1261.8 1776.6 1247.1 1777.1 1240.1C1777.6 1233.1 1779.6 1231.8 1782.1 1229.1C1784.5 1226.4 1787.3 1224.6 1791.7 1223.7Z" stroke="#529e4e" stroke-width="12.6" stroke-linejoin="round"/>
<path d="M1796.4 1223C1800.4 1222.2 1804.6 1223.1 1808.5 1223C1812.3 1222.9 1815.7 1221.5 1819.5 1222.5C1823.4 1223.4 1829.2 1226.1 1831.7 1228.8C1834.1 1231.4 1833.5 1231.7 1834.3 1238.4C1835 1245.1 1835.5 1258.8 1836.1 1269C1836.7 1279.3 1838.6 1292.7 1837.8 1299.8C1837 1306.8 1834 1309.1 1831.3 1311.3C1828.7 1313.5 1825.7 1312.3 1821.8 1313.1C1817.9 1313.9 1813 1315.9 1808 1316.2C1803 1316.5 1795.9 1316.2 1791.9 1315C1787.8 1313.9 1786 1312.1 1783.6 1309.2C1781.2 1306.4 1778.2 1304.7 1777.5 1297.9C1776.7 1291.1 1778.5 1278.5 1778.9 1268.3C1779.3 1258.2 1778.9 1243.8 1779.8 1237C1780.6 1230.2 1781.2 1229.9 1784 1227.5C1786.8 1225.2 1792.3 1223.7 1796.4 1223Z" stroke="#529e4e" stroke-width="12.6" stroke-linejoin="round"/>
<path d="M2009.3 1189.8C2013.2 1189.3 2016.1 1191.1 2020.6 1190.7C2025.2 1190.3 2032.3 1186.9 2036.5 1187.4C2040.8 1187.8 2043.7 1190.5 2046.1 1193.3C2048.5 1196.1 2050.3 1197.1 2050.9 1204.2C2051.6 1211.2 2050.2 1225.3 2050 1235.6C2049.9 1246 2050.6 1259.7 2050 1266.2C2049.5 1272.7 2048.9 1272.4 2046.7 1274.6C2044.5 1276.8 2040.7 1278.6 2036.7 1279.4C2032.6 1280.2 2026.7 1279.4 2022.2 1279.6C2017.8 1279.8 2014.5 1281.1 2010.1 1280.5C2005.7 1280 1999.2 1279.5 1995.9 1276.4C1992.5 1273.3 1990.5 1269.2 1990.2 1261.9C1990 1254.6 1994.4 1242.6 1994.4 1232.6C1994.4 1222.5 1989.8 1208 1990.3 1201.5C1990.7 1195.1 1993.9 1195.7 1997.1 1193.7C2000.3 1191.7 2005.3 1190.3 2009.3 1189.8Z" stroke="#529e4e" stroke-width="12.6" stroke-linejoin="round"/>
<path d="M2005.2 1186.5C2008.9 1185.2 2014.5 1185.6 2019.5 1185.9C2024.5 1186.2 2030.5 1187 2035.3 1188.2C2040.1 1189.4 2045.4 1190.5 2048.3 1193.1C2051.3 1195.7 2052.3 1196.8 2053.1 1203.7C2054 1210.6 2053.9 1224.7 2053.4 1234.7C2052.9 1244.6 2051 1257.1 2049.9 1263.6C2048.8 1270.1 2048.7 1271.1 2046.8 1273.7C2044.9 1276.3 2042.9 1278.3 2038.5 1279.2C2034.1 1280.1 2025.3 1279.4 2020.4 1279.2C2015.6 1279 2013.2 1279 2009.3 1278.1C2005.5 1277.2 2000.4 1276.2 1997.4 1273.6C1994.4 1271 1992.2 1269.1 1991.4 1262.6C1990.6 1256.2 1992.8 1244.5 1992.8 1234.7C1992.7 1225 1990.5 1211.1 1991.3 1204.2C1992.1 1197.3 1995.1 1196.4 1997.4 1193.4C1999.7 1190.5 2001.6 1187.7 2005.2 1186.5Z" stroke="#529e4e" stroke-width="12.6" stroke-linejoin="round"/>
<path d="M1595.3 1479.9C1600.1 1479.1 1605.6 1480.6 1610.1 1480.5C1614.6 1480.4 1618.7 1478.2 1622.3 1479.1C1625.9 1479.9 1629.4 1483.2 1631.6 1485.6C1633.7 1488 1634.6 1486.6 1635.2 1493.3C1635.8 1500 1635 1515.6 1635.1 1525.7C1635.2 1535.8 1635.9 1547.4 1635.7 1554C1635.5 1560.7 1636.3 1562.8 1633.7 1565.7C1631.2 1568.6 1624.4 1570.3 1620.4 1571.2C1616.5 1572.1 1614.7 1571 1610.1 1570.9C1605.4 1570.8 1597 1571.1 1592.4 1570.5C1587.9 1569.8 1585 1569.7 1582.8 1566.9C1580.6 1564.2 1579.8 1561.2 1579.2 1554C1578.6 1546.7 1579.8 1533.1 1579.2 1523.4C1578.6 1513.7 1575.5 1502.1 1575.8 1495.8C1576.1 1489.4 1577.9 1488 1581.1 1485.3C1584.4 1482.7 1590.5 1480.7 1595.3 1479.9Z" stroke="#529e4e" stroke-width="12.6" stroke-linejoin="round"/>
<path d="M1591.6 1483C1595.6 1482.6 1601.7 1482.8 1607.2 1482.4C1612.6 1481.9 1620.2 1480 1624.6 1480.5C1629 1480.9 1631.7 1482.9 1633.7 1485.1C1635.7 1487.3 1636 1486.7 1636.7 1493.8C1637.5 1500.9 1637.8 1517.6 1638.1 1527.7C1638.3 1537.8 1639.1 1548 1638.2 1554.3C1637.4 1560.6 1635.7 1562.5 1633 1565.4C1630.2 1568.3 1626.4 1570.9 1621.7 1571.7C1617 1572.5 1609.8 1570.7 1604.9 1570.2C1600.1 1569.6 1596.5 1569.3 1592.8 1568.4C1589.1 1567.6 1585.4 1567.5 1582.8 1565.1C1580.3 1562.7 1578 1560.6 1577.2 1554C1576.5 1547.3 1578 1534.9 1578.2 1525.1C1578.5 1515.4 1577.9 1502 1578.7 1495.3C1579.5 1488.7 1580.9 1487.3 1583 1485.3C1585.2 1483.2 1587.6 1483.5 1591.6 1483Z" stroke="#529e4e" stroke-width="12.6" stroke-linejoin="round"/>
<path d="M1740.7 1446.7C1744.6 1446 1749.4 1445.7 1754.5 1445.7C1759.5 1445.7 1766.8 1445.9 1771.1 1446.6C1775.4 1447.4 1777.9 1447.9 1780.1 1450.1C1782.3 1452.2 1784.1 1453.2 1784.4 1459.7C1784.8 1466.3 1782.8 1479 1782.3 1489.6C1781.8 1500.2 1781.5 1516.4 1781.3 1523.4C1781 1530.4 1783.3 1529.1 1780.8 1531.5C1778.3 1533.8 1770.3 1537.1 1766.2 1537.5C1762.2 1537.9 1760.3 1534.5 1756.6 1533.9C1752.9 1533.3 1748.3 1534.2 1744.1 1534C1739.9 1533.8 1733.8 1535.1 1731.3 1532.7C1728.8 1530.4 1729.7 1526.5 1729.1 1519.9C1728.5 1513.3 1727.9 1502.7 1727.8 1493.1C1727.6 1483.4 1727.7 1469.1 1728.3 1461.9C1728.8 1454.6 1729.1 1452.3 1731.1 1449.8C1733.2 1447.2 1736.8 1447.4 1740.7 1446.7Z" stroke="#529e4e" stroke-width="12.6" stroke-linejoin="round"/>
<path d="M1741.1 1446.9C1745.2 1446.1 1751.5 1446.5 1756.2 1446.5C1761 1446.6 1765.5 1446.3 1769.5 1447.1C1773.4 1447.8 1777.2 1448.4 1779.8 1450.8C1782.5 1453.3 1784.6 1454.7 1785.5 1461.9C1786.5 1469.1 1785.8 1483.9 1785.7 1494C1785.7 1504.2 1786.4 1516.3 1785.5 1522.7C1784.5 1529 1783 1530.1 1780 1532C1777 1534 1771.4 1533.7 1767.5 1534.2C1763.6 1534.7 1760.6 1534.6 1756.6 1535C1752.6 1535.3 1747.3 1537.1 1743.3 1536.5C1739.3 1536 1735.3 1534.4 1732.5 1531.7C1729.6 1528.9 1727 1526.6 1726.4 1520.2C1725.8 1513.9 1728.7 1503.4 1728.8 1493.5C1728.8 1483.6 1726.3 1467.9 1726.8 1460.8C1727.3 1453.7 1729.6 1453.2 1732 1450.9C1734.3 1448.6 1737.1 1447.6 1741.1 1446.9Z" stroke="#529e4e" stroke-width="12.6" stroke-linejoin="round"/>
<path d="M1861.4 1397.1C1865.9 1396.4 1872.6 1397.2 1877.9 1397.3C1883.2 1397.5 1889.3 1397.7 1893.4 1398.2C1897.6 1398.6 1900.3 1398 1902.7 1400C1905.2 1401.9 1907 1403 1908.1 1409.8C1909.1 1416.5 1909.1 1430.3 1909 1440.6C1908.9 1450.8 1908.7 1464.7 1907.6 1471.4C1906.5 1478 1905.2 1477.9 1902.5 1480.3C1899.7 1482.8 1895.1 1485.5 1891.1 1486.1C1887.2 1486.8 1883.6 1484 1878.8 1484.4C1874.1 1484.8 1867.5 1489.3 1862.8 1488.7C1858.2 1488.2 1854.3 1483.8 1851 1481.2C1847.8 1478.6 1844.5 1480.1 1843.2 1473.2C1842 1466.4 1842.7 1450.2 1843.5 1440C1844.3 1429.7 1846.7 1418.1 1848 1411.6C1849.3 1405.2 1848.9 1403.6 1851.1 1401.2C1853.4 1398.7 1857 1397.7 1861.4 1397.1Z" stroke="#529e4e" stroke-width="12.6" stroke-linejoin="round"/>
<path d="M1859.1 1395.8C1863 1394.7 1868.9 1394.8 1874.4 1395.1C1879.9 1395.4 1887.6 1396.5 1892.2 1397.4C1896.9 1398.3 1900 1398.6 1902.2 1400.6C1904.4 1402.7 1904.9 1402.7 1905.4 1409.5C1905.9 1416.3 1904.6 1430.9 1905 1441.4C1905.4 1451.9 1908.1 1465.4 1907.7 1472.4C1907.3 1479.3 1905 1480.9 1902.6 1483.2C1900.2 1485.6 1897.5 1486.4 1893.4 1486.6C1889.4 1486.9 1884.1 1484.6 1878.4 1484.6C1872.8 1484.6 1864.3 1486.8 1859.6 1486.5C1855 1486.3 1852.6 1486.2 1850.4 1483.3C1848.3 1480.4 1847.1 1476 1846.7 1468.9C1846.3 1461.8 1848.5 1450.3 1848 1440.8C1847.6 1431.4 1843.8 1418.7 1844.2 1412.1C1844.6 1405.5 1848 1404 1850.5 1401.2C1853 1398.5 1855.1 1396.8 1859.1 1395.8Z" stroke="#529e4e" stroke-width="12.6" stroke-linejoin="round"/>
<path d="M1996 1400.5C2000.1 1399.7 2004.6 1401.3 2008.8 1401.6C2013.1 1401.8 2017.7 1401.5 2021.5 1402.1C2025.3 1402.8 2029.5 1403.3 2031.8 1405.4C2034.1 1407.4 2034.3 1407.2 2035.3 1414.3C2036.2 1421.3 2037.2 1437.1 2037.4 1447.7C2037.6 1458.4 2037.5 1471.8 2036.8 1478.4C2036.1 1485 2035.8 1484.9 2033.2 1487.4C2030.6 1489.9 2025.3 1492.4 2021.2 1493.3C2017 1494.3 2012.7 1493 2008.2 1493.1C2003.7 1493.1 1998.2 1494.8 1994.4 1493.6C1990.6 1492.4 1987.8 1489.1 1985.7 1485.9C1983.6 1482.7 1982.9 1481.1 1981.9 1474.5C1981 1467.8 1980.5 1455.6 1980.1 1445.9C1979.8 1436.1 1979.2 1422.7 1979.9 1416C1980.5 1409.3 1981.4 1408.4 1984.1 1405.8C1986.8 1403.2 1991.9 1401.2 1996 1400.5Z" stroke="#529e4e" stroke-width="12.6" stroke-linejoin="round"/>
<path d="M1993.6 1403.3C1997.5 1402.8 2003.5 1402.7 2008.2 1402.8C2013 1403 2017.6 1403.5 2021.9 1404.2C2026.2 1404.9 2031.2 1404.3 2034.1 1406.8C2036.9 1409.2 2038.1 1412.3 2039 1418.9C2040 1425.4 2039.7 1436.9 2039.5 1446C2039.3 1455.2 2038.9 1467.3 2037.8 1474C2036.6 1480.7 2034.9 1483.9 2032.5 1486.3C2030 1488.8 2026.6 1488.3 2022.9 1488.7C2019.2 1489.2 2014.9 1488.6 2010.3 1489.1C2005.7 1489.5 1999.4 1491.5 1995.3 1491.2C1991.3 1490.9 1988.9 1489.6 1986.2 1487.3C1983.5 1484.9 1980 1483.8 1978.9 1477.1C1977.8 1470.4 1979.1 1456.8 1979.4 1447.1C1979.6 1437.4 1979.3 1426.1 1980.3 1419.1C1981.2 1412.2 1982.7 1408.1 1985 1405.4C1987.2 1402.8 1989.7 1403.7 1993.6 1403.3Z" stroke="#529e4e" stroke-width="12.6" stroke-linejoin="round"/>
<path d="M1753.2 1624.1C1757.2 1623.2 1763.1 1620.6 1768.2 1620.4C1773.3 1620.1 1779.4 1621.9 1784 1622.6C1788.5 1623.4 1793.4 1622.3 1795.8 1624.8C1798.1 1627.4 1797.4 1630.8 1797.9 1637.9C1798.4 1645 1798.4 1658.1 1798.7 1667.5C1799 1676.9 1800.6 1687.8 1799.7 1694.2C1798.7 1700.5 1795.8 1703.3 1793 1705.9C1790.2 1708.4 1786.9 1709.1 1782.8 1709.6C1778.6 1710.2 1773.1 1709 1767.9 1709.3C1762.7 1709.6 1755.7 1712 1751.8 1711.4C1747.9 1710.8 1746.9 1708.1 1744.4 1705.8C1742 1703.5 1738.4 1704.3 1737.1 1697.5C1735.9 1690.6 1736.7 1674.9 1737 1664.6C1737.4 1654.3 1737.9 1642.1 1739.2 1635.7C1740.4 1629.3 1742.2 1628.1 1744.5 1626.1C1746.9 1624.2 1749.3 1625.1 1753.2 1624.1Z" stroke="#529e4e" stroke-width="12.6" stroke-linejoin="round"/>
<path d="M1754.4 1621.1C1758.3 1620.7 1761.7 1623 1766.5 1623.4C1771.4 1623.8 1778.8 1623 1783.2 1623.4C1787.6 1623.8 1790.5 1624 1793.1 1625.9C1795.8 1627.8 1798.4 1627.8 1799 1634.9C1799.5 1642.1 1796.2 1658.1 1796.6 1668.8C1796.9 1679.4 1801.4 1692.4 1801.1 1698.9C1800.7 1705.3 1797.3 1705.6 1794.5 1707.6C1791.7 1709.7 1788.8 1710.4 1784.3 1711.2C1779.8 1711.9 1772.4 1711.8 1767.3 1712C1762.2 1712.2 1758.1 1713.2 1753.9 1712.2C1749.8 1711.2 1745 1708.7 1742.2 1706.2C1739.4 1703.8 1737.7 1704.4 1737.2 1697.6C1736.7 1690.8 1738.5 1675.5 1739.1 1665.4C1739.7 1655.3 1740.1 1643.4 1740.7 1636.8C1741.3 1630.2 1740.7 1628.4 1743 1625.8C1745.2 1623.2 1750.4 1621.5 1754.4 1621.1Z" stroke="#529e4e" stroke-width="12.6" stroke-linejoin="round"/>
<path d="M1973.1 1590.9C1976.8 1590.7 1981.4 1595.2 1986.6 1595.6C1991.8 1596.1 1999.6 1593.1 2004.2 1593.5C2008.8 1593.8 2011.9 1595.6 2014.3 1597.7C2016.6 1599.9 2017.8 1599.5 2018.2 1606.2C2018.7 1612.9 2017.2 1627.7 2016.9 1637.8C2016.7 1648 2017.6 1660.5 2016.8 1667.1C2016 1673.7 2015.1 1675 2012.4 1677.4C2009.7 1679.7 2004.7 1680.5 2000.8 1681.2C1996.8 1681.9 1993.2 1681.6 1988.6 1681.4C1984.1 1681.2 1977.2 1680.9 1973.4 1679.9C1969.6 1679 1967.9 1677.7 1965.8 1675.8C1963.7 1674 1961.4 1675.1 1960.6 1668.8C1959.9 1662.6 1961 1648.2 1961.3 1638.5C1961.6 1628.8 1961.6 1617.5 1962.1 1610.7C1962.7 1603.8 1962.9 1600.6 1964.8 1597.3C1966.6 1594 1969.5 1591.2 1973.1 1590.9Z" stroke="#529e4e" stroke-width="12.6" stroke-linejoin="round"/>
<path d="M1977.1 1590.8C1981.1 1590 1984.6 1591.4 1988.8 1592C1993.1 1592.7 1998.4 1593.5 2002.6 1594.4C2006.8 1595.4 2011.4 1595.7 2014 1597.6C2016.6 1599.6 2017.6 1599.1 2018.3 1606C2018.9 1613 2018.2 1629.5 2018.1 1639.5C2018 1649.5 2018.7 1660 2017.9 1666.2C2017 1672.4 2015.8 1674.4 2012.9 1676.6C2010 1678.8 2004.3 1678.9 2000.6 1679.7C1996.9 1680.5 1995.1 1681 1990.5 1681.4C1986 1681.7 1977.4 1682.5 1973.3 1681.9C1969.3 1681.2 1968.5 1679.6 1966.2 1677.3C1963.8 1675.1 1960.2 1675.3 1959.1 1668.6C1957.9 1661.9 1958.8 1647.6 1959.1 1637.3C1959.3 1626.9 1959.6 1613.3 1960.5 1606.5C1961.4 1599.7 1961.6 1599.3 1964.4 1596.6C1967.2 1594 1973 1591.5 1977.1 1590.8Z" stroke="#529e4e" stroke-width="12.6" stroke-linejoin="round"/>
<path d="M1595.4 1258.3C1655.3 1257 1711.9 1258.5 1771.9 1258.4" stroke="#1e1e1e" stroke-width="2.7"/>
<path d="M1596.4 1258.6C1653.2 1259.4 1712.6 1259.4 1772.1 1258.5" stroke="#1e1e1e" stroke-width="2.7"/>
<path d="M1706.9 1232.5C1728.4 1240.4 1749.4 1250 1772 1259.2" stroke="#1e1e1e" stroke-width="2.1"/>
<path d="M1705.8 1232.9C1727.7 1240.4 1750.1 1250.2 1772.1 1259.2" stroke="#1e1e1e" stroke-width="2.1"/>
<path d="M1706 1279.9C1727.7 1273.7 1748.7 1265.7 1770.7 1258.5" stroke="#1e1e1e" stroke-width="2.1"/>
<path d="M1706.9 1279.1C1728.8 1273.7 1749.6 1265.6 1770.8 1259.6" stroke="#1e1e1e" stroke-width="2.1"/>
<path d="M1585.4 1318.8C1591.7 1369.1 1596.7 1420.7 1604.6 1473" stroke="#1e1e1e" stroke-width="2.7"/>
<path d="M1585.2 1319.1C1591.3 1368.9 1595.5 1420.7 1603.5 1474" stroke="#1e1e1e" stroke-width="2.7"/>
<path d="M1571.2 1410.6C1580.9 1431.5 1592.4 1451.4 1604.4 1473.4" stroke="#1e1e1e" stroke-width="2.1"/>
<path d="M1570.3 1410.9C1581.1 1431.4 1593.3 1452.1 1604.1 1472.7" stroke="#1e1e1e" stroke-width="2.1"/>
<path d="M1615.8 1403.6C1612.5 1426.2 1607.1 1449.4 1603.9 1472.7" stroke="#1e1e1e" stroke-width="2.1"/>
<path d="M1615.7 1404.2C1612.3 1427 1608.9 1449.3 1604.2 1473.1" stroke="#1e1e1e" stroke-width="2.1"/>
<path d="M1658.2 1529C1680.4 1517.9 1701.3 1507.6 1722.7 1498.2" stroke="#1e1e1e" stroke-width="2.7"/>
<path d="M1658.3 1529.2C1680.3 1520.1 1702.6 1509.6 1723.6 1498.7" stroke="#1e1e1e" stroke-width="2.7"/>
<path d="M1687.6 1501.7C1698.9 1500.5 1710.9 1499.8 1722.4 1497.5" stroke="#1e1e1e" stroke-width="2.1"/>
<path d="M1688.1 1501.2C1698.9 1501.2 1710.8 1498.6 1722.7 1497.3" stroke="#1e1e1e" stroke-width="2.1"/>
<path d="M1698.8 1523.4C1706.5 1514.9 1715.3 1506 1722.9 1498.7" stroke="#1e1e1e" stroke-width="2.1"/>
<path d="M1698.7 1523.3C1706.5 1515.4 1715.8 1507.4 1722.3 1497.3" stroke="#1e1e1e" stroke-width="2.1"/>
<path d="M1649 1554.7C1675.5 1583.6 1699.6 1611.9 1726.5 1643.7" stroke="#1e1e1e" stroke-width="2.7"/>
<path d="M1649.8 1553.5C1676.6 1581.8 1700.3 1613.1 1727.6 1641.9" stroke="#1e1e1e" stroke-width="2.7"/>
<path d="M1676.7 1614.1C1692.6 1623.6 1709.5 1633 1726.3 1642.8" stroke="#1e1e1e" stroke-width="2.1"/>
<path d="M1675.8 1613.9C1693 1623.4 1709.2 1632.7 1726.3 1643.7" stroke="#1e1e1e" stroke-width="2.1"/>
<path d="M1706.8 1587.4C1713.3 1606.3 1719.7 1624.6 1726.5 1643.1" stroke="#1e1e1e" stroke-width="2.1"/>
<path d="M1708 1587.9C1714.5 1605.3 1721.2 1623.7 1726 1642.7" stroke="#1e1e1e" stroke-width="2.1"/>
<path d="M1759 1425.4C1769.9 1394.2 1781.9 1361.9 1794.1 1329.7" stroke="#1e1e1e" stroke-width="2.7"/>
<path d="M1760.2 1424.9C1771.2 1394.7 1782.1 1361.9 1791.9 1331" stroke="#1e1e1e" stroke-width="2.7"/>
<path d="M1761.7 1369.7C1771.3 1356.1 1781.5 1342.9 1793.2 1330.6" stroke="#1e1e1e" stroke-width="2.1"/>
<path d="M1760.8 1370.1C1772.7 1356.9 1781.6 1343.6 1793.7 1329.9" stroke="#1e1e1e" stroke-width="2.1"/>
<path d="M1795.2 1379.8C1794.5 1364 1793.3 1348.2 1792.6 1329.7" stroke="#1e1e1e" stroke-width="2.1"/>
<path d="M1795.5 1381C1795.5 1363.7 1794.6 1347.2 1792.8 1330.9" stroke="#1e1e1e" stroke-width="2.1"/>
<path d="M1855.3 1324.6C1867.8 1347 1879.9 1368.2 1892 1388.4" stroke="#1e1e1e" stroke-width="2.7"/>
<path d="M1856 1326.1C1867.3 1347 1879.1 1367.7 1892 1390" stroke="#1e1e1e" stroke-width="2.7"/>
<path d="M1863.7 1366.5C1873.2 1374.7 1881.2 1381.3 1891.5 1388.7" stroke="#1e1e1e" stroke-width="2.1"/>
<path d="M1863.8 1367.3C1873.3 1375.1 1881.4 1381.8 1891.5 1388.4" stroke="#1e1e1e" stroke-width="2.1"/>
<path d="M1889.2 1358C1890.3 1368.1 1891.1 1378.7 1891.5 1389.8" stroke="#1e1e1e" stroke-width="2.1"/>
<path d="M1889.8 1357.3C1890.1 1368.9 1890 1378.5 1891 1388.6" stroke="#1e1e1e" stroke-width="2.1"/>
<path d="M1913.5 1442.2C1940.2 1397.1 1967.7 1349.5 1995.9 1301.5" stroke="#1e1e1e" stroke-width="2.7"/>
<path d="M1912.5 1441.5C1941.9 1394.7 1968.1 1349.6 1996 1301.2" stroke="#1e1e1e" stroke-width="2.7"/>
<path d="M1941.9 1344.1C1959.2 1330.6 1976.9 1315.4 1994.4 1300" stroke="#1e1e1e" stroke-width="2.1"/>
<path d="M1941.8 1345C1959.6 1329.3 1976.5 1315.5 1994.4 1300.5" stroke="#1e1e1e" stroke-width="2.1"/>
<path d="M1982.1 1368.4C1985.3 1346.3 1989.1 1322.7 1995.4 1300.2" stroke="#1e1e1e" stroke-width="2.1"/>
<path d="M1982.2 1367.4C1986.6 1345.9 1990.9 1322.8 1994.5 1300.4" stroke="#1e1e1e" stroke-width="2.1"/>
<path d="M2033.2 1381C2031.2 1353.6 2030.5 1326.3 2029.5 1298.5" stroke="#1e1e1e" stroke-width="2.7"/>
<path d="M2033.3 1381.6C2030.6 1354.1 2030.3 1327.9 2030.8 1300.5" stroke="#1e1e1e" stroke-width="2.7"/>
<path d="M2017.7 1339.7C2021.8 1325.3 2026.3 1312.5 2031.2 1298.9" stroke="#1e1e1e" stroke-width="2.1"/>
<path d="M2017.3 1338.2C2021.6 1326 2025.5 1313.4 2031.1 1298.9" stroke="#1e1e1e" stroke-width="2.1"/>
<path d="M2044.9 1337.2C2040.1 1324.2 2035.7 1312.3 2029.9 1299.5" stroke="#1e1e1e" stroke-width="2.1"/>
<path d="M2046.2 1336.7C2041 1324.4 2035.3 1311.7 2030.3 1299" stroke="#1e1e1e" stroke-width="2.1"/>
<path d="M2025.8 1580.4C2024.4 1556.5 2023.3 1534.2 2023.8 1509.4" stroke="#1e1e1e" stroke-width="2.7"/>
<path d="M2024.9 1579.9C2023 1557.3 2022 1533 2022.5 1509.1" stroke="#1e1e1e" stroke-width="2.7"/>
<path d="M2011 1543.5C2014.5 1531.4 2018.6 1520.8 2023.3 1510.1" stroke="#1e1e1e" stroke-width="2.1"/>
<path d="M2012 1543.6C2015.3 1531.9 2018.5 1520.7 2022.2 1508.7" stroke="#1e1e1e" stroke-width="2.1"/>
<path d="M2037.1 1541.5C2032.4 1530.8 2027.3 1520.2 2022.7 1509" stroke="#1e1e1e" stroke-width="2.1"/>
<path d="M2037.3 1542.3C2032.6 1532.1 2027.6 1520.2 2023.4 1509.3" stroke="#1e1e1e" stroke-width="2.1"/>
<path d="M1913.1 1502C1937.6 1527.1 1961.1 1554.4 1983.9 1583.2" stroke="#1e1e1e" stroke-width="2.7"/>
<path d="M1912.3 1503.1C1937.2 1526.6 1961 1553.7 1983.7 1582.6" stroke="#1e1e1e" stroke-width="2.7"/>
<path d="M1936.6 1557C1952.2 1565.3 1967.6 1573.2 1983 1582.7" stroke="#1e1e1e" stroke-width="2.1"/>
<path d="M1936.2 1556.3C1952.7 1565.6 1967.2 1572.7 1982.8 1581.2" stroke="#1e1e1e" stroke-width="2.1"/>
<path d="M1964.4 1532.7C1970.6 1548.5 1976.6 1565.3 1982.4 1581.9" stroke="#1e1e1e" stroke-width="2.1"/>
<path d="M1963.9 1533.8C1969.4 1549.9 1976.4 1564.9 1982.6 1582.4" stroke="#1e1e1e" stroke-width="2.1"/>
<path d="M1879.9 1503.1C1856.3 1551 1835.7 1597.1 1814.9 1646.6" stroke="#1e1e1e" stroke-width="2.7"/>
<path d="M1878.6 1504.8C1856.8 1551 1836.9 1596.9 1814.7 1646.6" stroke="#1e1e1e" stroke-width="2.7"/>
<path d="M1820.6 1579.4C1818.6 1601.5 1816 1623.3 1814.3 1645.2" stroke="#1e1e1e" stroke-width="2.1"/>
<path d="M1819.9 1579.7C1817.3 1600.8 1815.4 1622.9 1814.2 1646.1" stroke="#1e1e1e" stroke-width="2.1"/>
<path d="M1864.8 1597.7C1847.6 1613.1 1830.1 1628.6 1814.6 1646.3" stroke="#1e1e1e" stroke-width="2.1"/>
<path d="M1863.4 1597.6C1846.8 1613.1 1830.7 1629.7 1813.8 1645.1" stroke="#1e1e1e" stroke-width="2.1"/>
<path d="M1773.8 1602.2C1774.1 1584 1773.5 1564.8 1771.9 1546" stroke="#1e1e1e" stroke-width="2.7"/>
<path d="M1772.9 1602.4C1773.7 1583.9 1773.3 1565.7 1773.7 1545.1" stroke="#1e1e1e" stroke-width="2.7"/>
<path d="M1764.1 1573.3C1766.5 1564 1769.1 1554.5 1772.7 1545.9" stroke="#1e1e1e" stroke-width="2.1"/>
<path d="M1764.2 1572.9C1767.6 1563.6 1769.5 1555.1 1772.3 1545.6" stroke="#1e1e1e" stroke-width="2.1"/>
<path d="M1782.4 1572.3C1780 1564.1 1776.9 1555.5 1773.2 1546.1" stroke="#1e1e1e" stroke-width="2.1"/>
<path d="M1782.8 1573.8C1779.8 1563.7 1775.6 1554.6 1773.7 1545.7" stroke="#1e1e1e" stroke-width="2.1"/>
</svg></body></html>
